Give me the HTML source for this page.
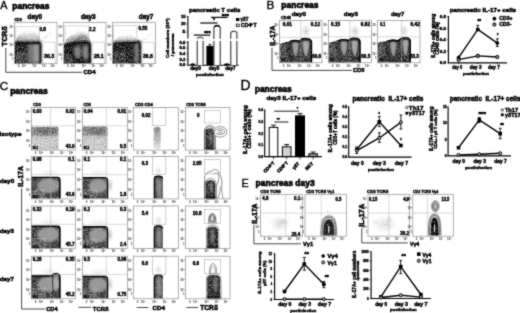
<!DOCTYPE html>
<html><head><meta charset="utf-8"><style>
html,body{margin:0;padding:0;background:#fff;width:520px;height:313px;overflow:hidden}
svg{display:block}
text{font-family:"Liberation Sans",sans-serif;stroke:#000}
</style></head><body>
<svg width="520" height="313" viewBox="0 0 520 313">

<defs>
<filter id="dn" x="-3%" y="-3%" width="106%" height="106%" color-interpolation-filters="sRGB">
  <feTurbulence type="fractalNoise" baseFrequency="1.3" numOctaves="1" seed="7" result="n"/>
  <feColorMatrix in="n" type="matrix" values="0 0 0 0 0  0 0 0 0 0  0 0 0 0 0  1.6 0 0 0 0.1" result="m"/>
  <feComposite in="SourceGraphic" in2="m" operator="in" result="c"/>
</filter>
<filter id="md" x="-3%" y="-3%" width="106%" height="106%" color-interpolation-filters="sRGB">
  <feTurbulence type="fractalNoise" baseFrequency="1.3" numOctaves="1" seed="11" result="n"/>
  <feColorMatrix in="n" type="matrix" values="0 0 0 0 0  0 0 0 0 0  0 0 0 0 0  1.4 0 0 0 -0.1" result="m"/>
  <feComposite in="SourceGraphic" in2="m" operator="in" result="c"/>
</filter>
<filter id="sp" x="-3%" y="-3%" width="106%" height="106%" color-interpolation-filters="sRGB">
  <feTurbulence type="fractalNoise" baseFrequency="1.3" numOctaves="1" seed="23" result="n"/>
  <feColorMatrix in="n" type="matrix" values="0 0 0 0 0  0 0 0 0 0  0 0 0 0 0  2.2 0 0 0 -0.75" result="m"/>
  <feComposite in="SourceGraphic" in2="m" operator="in" result="c"/>
</filter>
<filter id="b3" x="-20%" y="-20%" width="140%" height="140%"><feGaussianBlur stdDeviation="0.8"/></filter>
<filter id="b6" x="-20%" y="-20%" width="140%" height="140%"><feGaussianBlur stdDeviation="1.0"/></filter>
<filter id="b12" x="-30%" y="-30%" width="160%" height="160%"><feGaussianBlur stdDeviation="1.2"/></filter>
<filter id="b20" x="-40%" y="-40%" width="180%" height="180%"><feGaussianBlur stdDeviation="2.0"/></filter>
<filter id="cv" x="0" y="0" width="520" height="313" filterUnits="userSpaceOnUse" color-interpolation-filters="sRGB"><feConvolveMatrix order="3" kernelMatrix="1 3 1 3 16 3 1 3 1" divisor="32" edgeMode="duplicate"/></filter>
<radialGradient id="rg" cx="0.5" cy="0.5" r="0.5"><stop offset="0" stop-color="#000" stop-opacity="1"/><stop offset="1" stop-color="#000" stop-opacity="0"/></radialGradient>
<linearGradient id="lgv2" x1="0" y1="0" x2="0" y2="1"><stop offset="0" stop-color="#000" stop-opacity="0.9"/><stop offset="1" stop-color="#000" stop-opacity="0.25"/></linearGradient>
<linearGradient id="lgh" x1="0" y1="0" x2="1" y2="0"><stop offset="0" stop-color="#fff" stop-opacity="0.9"/><stop offset="0.6" stop-color="#fff" stop-opacity="0.5"/><stop offset="1" stop-color="#fff" stop-opacity="0"/></linearGradient>
<linearGradient id="lgv" x1="0" y1="1" x2="0" y2="0"><stop offset="0" stop-color="#000" stop-opacity="1"/><stop offset="1" stop-color="#000" stop-opacity="0"/></linearGradient>
</defs>

<g filter="url(#cv)"><rect width="520" height="313" fill="#fff"/>
<g filter="url(#md)" opacity="0.6"><path d="M15.5,42 C16,36 22,30.5 30,30.5 C36,30.5 40,35 41,42 Z" fill="url(#lgv)" stroke="none" stroke-width="1"/></g>
<g filter="url(#sp)" opacity="0.25"><path d="M40,42 C42,38 48,32 55,29 L56,31 C50,35 45,39 43,42 Z" fill="url(#lgv)" stroke="none" stroke-width="1"/></g>
<g filter="url(#dn)"><path d="M14.8,42 H38.5 Q41.2,42 41.2,44.6 V63.5 H14.8 Z" fill="#0a0a0a" stroke="none" stroke-width="1"/></g>
<g filter="url(#b6)" opacity="0.8"><path d="M27.8,44 H39.8 V63 H27.8 Z" fill="#8c8c8c" stroke="none" stroke-width="1"/></g>
<g filter="url(#b6)" opacity="0.6"><path d="M33.8,45 H39 V62.5 H33.8 Z" fill="#b0b0b0" stroke="none" stroke-width="1"/></g>
<g filter="url(#b3)"><path d="M14.8,42.2 H38.5 Q40.9,42.2 40.9,44.6 V63.5" fill="none" stroke="#000" stroke-width="1.5"/></g>
<g filter="url(#sp)" opacity="0.45"><path d="M16,52 H27 V63.3 H16 Z" fill="#fff" stroke="none" stroke-width="1"/></g>
<g filter="url(#md)" opacity="0.8"><path d="M64.5,44 C66,38 71,35 75,34 C77,30 83,29 86,32 C89,35 90,40 90.5,42 Z" fill="url(#lgv)" stroke="none" stroke-width="1"/></g>
<g filter="url(#md)" opacity="0.35"><path d="M72,43 C73,39 76,37 78,36 C80,33 85,34 87,37 C89,40 90,42 90,43 Z" fill="#000" stroke="none" stroke-width="1"/></g>
<g filter="url(#dn)"><path d="M64,44 C68,42.5 72,42 75,42 H88 Q90.8,42 90.8,44.8 V63.5 H64 Z" fill="#0a0a0a" stroke="none" stroke-width="1"/></g>
<g filter="url(#b6)" opacity="0.85"><ellipse cx="77.7" cy="52" rx="3.6" ry="6.5" fill="#909090"/></g>
<g filter="url(#b6)" opacity="0.85"><ellipse cx="85.6" cy="52" rx="3" ry="7.5" fill="#9a9a9a"/></g>
<g filter="url(#b3)"><path d="M75,42.3 H88 Q90.5,42.3 90.5,44.8 V63.5" fill="none" stroke="#000" stroke-width="1.4"/></g>
<g filter="url(#sp)" opacity="0.4"><path d="M65,54 H73 V63.3 H65 Z" fill="#fff" stroke="none" stroke-width="1"/></g>
<g filter="url(#md)" opacity="0.55"><path d="M113.5,43 C116,37 122,34 128,34 C133,34 136,38 138,42 Z" fill="url(#lgv)" stroke="none" stroke-width="1"/></g>
<g filter="url(#sp)" opacity="0.25"><path d="M141,42 C144,38 149,33 154,30 L155,32 C150,36 146,39 143,42 Z" fill="url(#lgv)" stroke="none" stroke-width="1"/></g>
<g filter="url(#dn)"><path d="M112.8,43 C118,42.3 124,42 130,42 H136 Q138,39.8 139.5,41 Q140.8,42 140.8,45 V63.5 H112.8 Z" fill="#0a0a0a" stroke="none" stroke-width="1"/></g>
<g filter="url(#b6)" opacity="0.8"><path d="M134.2,43.5 Q137,41.8 139.3,43.5 V62.5 H134.2 Z" fill="#8a8a8a" stroke="none" stroke-width="1"/></g>
<g filter="url(#b3)"><path d="M112.8,42.6 C118,42.3 124,42.2 130,42.2 H135.5 Q138,40 139.8,41.5 Q140.5,42.5 140.5,45 V63.5" fill="none" stroke="#000" stroke-width="1.4"/></g>
<g filter="url(#sp)" opacity="0.4"><path d="M114,52 H126 V63.3 H114 Z" fill="#fff" stroke="none" stroke-width="1"/></g>
<g filter="url(#md)" opacity="0.3"><ellipse cx="306" cy="31" rx="5.25" ry="6.6" fill="url(#rg)"/></g>
<g filter="url(#dn)" opacity="0.95"><path d="M279.8,44.0 C283.8,42.5 287.0,41.9 290.5,40.9 Q295.4,39.1 299.8,40.9 Q301.3,37.800000000000004 305.95000000000005,38.2 Q311.8,38.4 311.8,42.1 V62.5 H279.8 Z" fill="#111" stroke="none" stroke-width="1"/></g>
<g filter="url(#sp)" opacity="0.7"><path d="M279.8,44.5 H289.5 V62 H279.8 Z" fill="url(#lgh)" stroke="none" stroke-width="1"/></g>
<g filter="url(#b3)" opacity="0.95"><path d="M291.7,42.4 Q295.4,40.699999999999996 299.3,42.4 C299.3,51.9 297.2,55.4 296.2,58.4 C293.59999999999997,55.4 291.7,51.9 291.7,42.4 Z" fill="#b0b0b0" stroke="none" stroke-width="1"/></g>
<g filter="url(#b3)" opacity="0.95"><path d="M301.8,41.1 Q305.95000000000005,39.300000000000004 309.90000000000003,41.1 C309.90000000000003,51.6 307.55000000000007,55.6 306.25000000000006,58.6 C304.15000000000003,55.6 301.8,51.6 301.8,41.1 Z" fill="#bababa" stroke="none" stroke-width="1"/></g>
<g filter="url(#md)" opacity="0.12"><path d="M291.7,42.4 Q295.4,40.699999999999996 299.3,42.4 C299.3,51.9 297.2,55.4 296.2,58.4 C293.59999999999997,55.4 291.7,51.9 291.7,42.4 Z" fill="#000" stroke="none" stroke-width="1"/></g>
<g filter="url(#md)" opacity="0.1"><path d="M301.8,41.1 Q305.95000000000005,39.300000000000004 309.90000000000003,41.1 C309.90000000000003,51.6 307.55000000000007,55.6 306.25000000000006,58.6 C304.15000000000003,55.6 301.8,51.6 301.8,41.1 Z" fill="#000" stroke="none" stroke-width="1"/></g>
<path d="M291.7,42.4 Q295.4,40.699999999999996 299.3,42.4 C299.3,51.9 297.2,55.4 296.2,58.4 C293.59999999999997,55.4 291.7,51.9 291.7,42.4 Z" fill="none" stroke="#111" stroke-width="0.6"/>
<path d="M301.8,41.1 Q305.95000000000005,39.300000000000004 309.90000000000003,41.1 C309.90000000000003,51.6 307.55000000000007,55.6 306.25000000000006,58.6 C304.15000000000003,55.6 301.8,51.6 301.8,41.1 Z" fill="none" stroke="#111" stroke-width="0.6"/>
<path d="M289.5,41.699999999999996 Q295.4,39.6 299.8,41.4 Q301.3,38.300000000000004 305.95000000000005,38.6 Q311.5,38.800000000000004 311.5,42.1 V62.5" fill="none" stroke="#000" stroke-width="1.4"/>
<g filter="url(#md)" opacity="0.3"><ellipse cx="355" cy="31" rx="5.25" ry="6.6" fill="url(#rg)"/></g>
<g filter="url(#dn)" opacity="0.95"><path d="M328.8,43.3 C332.8,41.8 335.2,41.0 338.7,40.0 Q343.9,38.2 348.6,40.0 Q350.3,37.400000000000006 354.75,37.800000000000004 Q360.3,38.0 360.3,41.7 V62.5 H328.8 Z" fill="#111" stroke="none" stroke-width="1"/></g>
<g filter="url(#sp)" opacity="0.7"><path d="M328.8,43.8 H337.7 V62 H328.8 Z" fill="url(#lgh)" stroke="none" stroke-width="1"/></g>
<g filter="url(#b3)" opacity="0.95"><path d="M339.9,41.5 Q343.9,39.8 348.1,41.5 C348.1,51.0 345.7,54.5 344.7,57.5 C342.09999999999997,54.5 339.9,51.0 339.9,41.5 Z" fill="#b0b0b0" stroke="none" stroke-width="1"/></g>
<g filter="url(#b3)" opacity="0.95"><path d="M350.8,40.7 Q354.75,38.900000000000006 358.5,40.7 C358.5,51.2 356.35,55.2 355.05,58.2 C352.95,55.2 350.8,51.2 350.8,40.7 Z" fill="#bababa" stroke="none" stroke-width="1"/></g>
<g filter="url(#md)" opacity="0.12"><path d="M339.9,41.5 Q343.9,39.8 348.1,41.5 C348.1,51.0 345.7,54.5 344.7,57.5 C342.09999999999997,54.5 339.9,51.0 339.9,41.5 Z" fill="#000" stroke="none" stroke-width="1"/></g>
<g filter="url(#md)" opacity="0.1"><path d="M350.8,40.7 Q354.75,38.900000000000006 358.5,40.7 C358.5,51.2 356.35,55.2 355.05,58.2 C352.95,55.2 350.8,51.2 350.8,40.7 Z" fill="#000" stroke="none" stroke-width="1"/></g>
<path d="M339.9,41.5 Q343.9,39.8 348.1,41.5 C348.1,51.0 345.7,54.5 344.7,57.5 C342.09999999999997,54.5 339.9,51.0 339.9,41.5 Z" fill="none" stroke="#111" stroke-width="0.6"/>
<path d="M350.8,40.7 Q354.75,38.900000000000006 358.5,40.7 C358.5,51.2 356.35,55.2 355.05,58.2 C352.95,55.2 350.8,51.2 350.8,40.7 Z" fill="none" stroke="#111" stroke-width="0.6"/>
<path d="M337.7,40.8 Q343.9,38.7 348.6,40.5 Q350.3,37.900000000000006 354.75,38.2 Q360.0,38.400000000000006 360.0,41.7 V62.5" fill="none" stroke="#000" stroke-width="1.4"/>
<g filter="url(#md)" opacity="0.3"><ellipse cx="404" cy="31" rx="4.5" ry="6.6" fill="url(#rg)"/></g>
<g filter="url(#dn)" opacity="0.95"><path d="M377.8,43.0 C381.8,41.5 384.8,41.5 388.3,40.5 Q393.3,38.7 397.8,40.5 Q401.3,36.800000000000004 405.55,37.2 Q410.5,37.4 410.5,41.1 V62.5 H377.8 Z" fill="#111" stroke="none" stroke-width="1"/></g>
<g filter="url(#sp)" opacity="0.7"><path d="M377.8,43.5 H387.3 V62 H377.8 Z" fill="url(#lgh)" stroke="none" stroke-width="1"/></g>
<g filter="url(#b3)" opacity="0.95"><path d="M389.5,42.0 Q393.3,40.3 397.3,42.0 C397.3,51.5 395.1,55.0 394.1,58.0 C391.5,55.0 389.5,51.5 389.5,42.0 Z" fill="#b0b0b0" stroke="none" stroke-width="1"/></g>
<g filter="url(#b3)" opacity="0.95"><path d="M401.8,40.1 Q405.55,38.300000000000004 409.1,40.1 C409.1,50.6 407.15000000000003,54.6 405.85,57.6 C403.75,54.6 401.8,50.6 401.8,40.1 Z" fill="#bababa" stroke="none" stroke-width="1"/></g>
<g filter="url(#md)" opacity="0.12"><path d="M389.5,42.0 Q393.3,40.3 397.3,42.0 C397.3,51.5 395.1,55.0 394.1,58.0 C391.5,55.0 389.5,51.5 389.5,42.0 Z" fill="#000" stroke="none" stroke-width="1"/></g>
<g filter="url(#md)" opacity="0.1"><path d="M401.8,40.1 Q405.55,38.300000000000004 409.1,40.1 C409.1,50.6 407.15000000000003,54.6 405.85,57.6 C403.75,54.6 401.8,50.6 401.8,40.1 Z" fill="#000" stroke="none" stroke-width="1"/></g>
<path d="M389.5,42.0 Q393.3,40.3 397.3,42.0 C397.3,51.5 395.1,55.0 394.1,58.0 C391.5,55.0 389.5,51.5 389.5,42.0 Z" fill="none" stroke="#111" stroke-width="0.6"/>
<path d="M401.8,40.1 Q405.55,38.300000000000004 409.1,40.1 C409.1,50.6 407.15000000000003,54.6 405.85,57.6 C403.75,54.6 401.8,50.6 401.8,40.1 Z" fill="none" stroke="#111" stroke-width="0.6"/>
<path d="M387.3,41.3 Q393.3,39.2 397.8,41.0 Q401.3,37.300000000000004 405.55,37.6 Q410.2,37.800000000000004 410.2,41.1 V62.5" fill="none" stroke="#000" stroke-width="1.4"/>
<g filter="url(#md)" opacity="0.4"><path d="M31.1,126.7 H56.5 Q58.5,126.7 58.5,128.7 V149.79999999999998 H31.1 Z" fill="#000" stroke="none" stroke-width="1"/></g>
<g filter="url(#md)" opacity="0.45"><path d="M31.1,126.7 H56.5 Q58.5,126.7 58.5,128.7 V135.7 H31.1 Z" fill="#000" stroke="none" stroke-width="1"/></g>
<g filter="url(#md)" opacity="0.25"><path d="M36.8,127.7 H55.5 V133.7 H36.8 Z" fill="#000" stroke="none" stroke-width="1"/></g>
<g filter="url(#sp)" opacity="0.5"><path d="M31.8,138.7 H55.5 V149.6 H31.8 Z" fill="#fff" stroke="none" stroke-width="1"/></g>
<g filter="url(#md)" opacity="0.4"><path d="M82.6,126.5 H105.5 Q107.5,126.5 107.5,128.5 V149.79999999999998 H82.6 Z" fill="#000" stroke="none" stroke-width="1"/></g>
<g filter="url(#md)" opacity="0.45"><path d="M82.6,126.5 H105.5 Q107.5,126.5 107.5,128.5 V135.5 H82.6 Z" fill="#000" stroke="none" stroke-width="1"/></g>
<g filter="url(#md)" opacity="0.25"><path d="M88.3,127.5 H104.5 V133.5 H88.3 Z" fill="#000" stroke="none" stroke-width="1"/></g>
<g filter="url(#sp)" opacity="0.5"><path d="M83.3,138.5 H104.5 V149.6 H83.3 Z" fill="#fff" stroke="none" stroke-width="1"/></g>
<g filter="url(#md)" opacity="0.8"><path d="M153.7,128.0 Q157.2,126.0 160.7,128.0 V148.1 Q157.2,150.1 153.7,148.1 Z" fill="url(#lgv2)" stroke="none" stroke-width="1"/></g>
<g filter="url(#dn)" opacity="0.95"><path d="M205.4,149.6 V130.78 C205.4,127.5 213.8,127.5 213.8,130.78 V149.6 Z" fill="#111" stroke="none" stroke-width="1"/></g>
<g filter="url(#b6)" opacity="0.75"><ellipse cx="210.6" cy="138" rx="1.3" ry="5" fill="#aaa"/></g>
<path d="M204.6,149.6 V130.78 C204.6,125.5 214.60000000000002,125.5 214.60000000000002,130.78 V149.6" fill="none" stroke="#000" stroke-width="0.5" opacity="0.8"/>
<g filter="url(#b3)" opacity="0.9"><rect x="205.4" y="147.6" width="8.9" height="2" fill="#000"/></g>
<path d="M204.6,149.6 V131 C204.6,124.5 213,124 215,128.5 C217.5,125.5 226.5,126 226.8,131.5 C227,137 219,138.5 215.5,135.5 V149.6" fill="none" stroke="#000" stroke-width="0.5" opacity="0.85"/>
<path d="M215.2,130.5 C218,128 224.5,128.3 224.6,131.8 C224.6,134.8 219,135 216,133.3" fill="none" stroke="#000" stroke-width="0.5" opacity="0.85"/>
<path d="M217.5,131.5 C219,130 222.3,130.3 222.4,131.8 C222.4,133.2 219.5,133.2 218,132.6" fill="none" stroke="#000" stroke-width="0.5" opacity="0.85"/>
<g filter="url(#dn)" opacity="0.9"><path d="M31.1,177.10000000000002 H57.2 Q60.2,177.10000000000002 60.2,180.10000000000002 V198.6 H31.1 Z" fill="#1a1a1a" stroke="none" stroke-width="1"/></g>
<g filter="url(#b6)" opacity="0.85"><ellipse cx="48.5" cy="185.6" rx="11.2" ry="7.5" fill="#a8a8a8"/></g>
<path d="M31.1,177.40000000000003 H57.2 Q59.900000000000006,177.40000000000003 59.900000000000006,180.10000000000002 V198.6" fill="none" stroke="#000" stroke-width="1.4"/>
<g filter="url(#sp)" opacity="0.45"><path d="M31.8,189.10000000000002 H45.8 V198.4 H31.8 Z" fill="#fff" stroke="none" stroke-width="1"/></g>
<g filter="url(#md)" opacity="0.12"><ellipse cx="49.5" cy="173.1" rx="11" ry="4" fill="url(#rg)"/></g>
<g filter="url(#dn)" opacity="0.9"><path d="M82.6,177.3 H104.8 Q107.8,177.3 107.8,180.3 V198.6 H82.6 Z" fill="#1a1a1a" stroke="none" stroke-width="1"/></g>
<g filter="url(#b6)" opacity="0.85"><ellipse cx="98.05" cy="185.8" rx="9.25" ry="7.5" fill="#a8a8a8"/></g>
<path d="M82.6,177.60000000000002 H104.8 Q107.5,177.60000000000002 107.5,180.3 V198.6" fill="none" stroke="#000" stroke-width="1.4"/>
<g filter="url(#sp)" opacity="0.45"><path d="M83.3,189.3 H97.3 V198.4 H83.3 Z" fill="#fff" stroke="none" stroke-width="1"/></g>
<g filter="url(#md)" opacity="0.12"><ellipse cx="99.05" cy="173.3" rx="11" ry="4" fill="url(#rg)"/></g>
<g filter="url(#md)" opacity="0.35"><ellipse cx="109.8" cy="185.3" rx="4" ry="8" fill="url(#rg)"/></g>
<g filter="url(#dn)" opacity="0.9"><path d="M154.0,198.6 V178.8 Q154.0,175.8 158.4,175.8 Q162.8,175.8 162.8,178.8 V198.6 Z" fill="#2a2a2a" stroke="none" stroke-width="1"/></g>
<g filter="url(#b6)" opacity="0.8"><ellipse cx="159" cy="187.8" rx="2.4" ry="9.5" fill="#9a9a9a"/></g>
<path d="M154.3,198.6 V178.8 Q154.3,176.10000000000002 158.4,176.10000000000002 Q162.5,176.10000000000002 162.5,178.8" fill="none" stroke="#000" stroke-width="1.2"/>
<g filter="url(#md)" opacity="0.2"><ellipse cx="158.4" cy="170.8" rx="4.4" ry="5" fill="url(#rg)"/></g>
<g filter="url(#dn)" opacity="0.9"><path d="M31.1,226.0 H57.2 Q60.2,226.0 60.2,229.0 V248.29999999999998 H31.1 Z" fill="#1a1a1a" stroke="none" stroke-width="1"/></g>
<g filter="url(#b6)" opacity="0.85"><ellipse cx="48.5" cy="234.5" rx="11.2" ry="7.5" fill="#a8a8a8"/></g>
<path d="M31.1,226.3 H57.2 Q59.900000000000006,226.3 59.900000000000006,229.0 V248.29999999999998" fill="none" stroke="#000" stroke-width="1.4"/>
<g filter="url(#sp)" opacity="0.45"><path d="M31.8,238.0 H45.8 V248.1 H31.8 Z" fill="#fff" stroke="none" stroke-width="1"/></g>
<g filter="url(#md)" opacity="0.12"><ellipse cx="49.5" cy="222" rx="11" ry="4" fill="url(#rg)"/></g>
<g filter="url(#dn)" opacity="0.9"><path d="M82.6,226.5 H104.8 Q107.8,226.5 107.8,229.5 V248.29999999999998 H82.6 Z" fill="#1a1a1a" stroke="none" stroke-width="1"/></g>
<g filter="url(#b6)" opacity="0.85"><ellipse cx="98.05" cy="235" rx="9.25" ry="7.5" fill="#a8a8a8"/></g>
<path d="M82.6,226.8 H104.8 Q107.5,226.8 107.5,229.5 V248.29999999999998" fill="none" stroke="#000" stroke-width="1.4"/>
<g filter="url(#sp)" opacity="0.45"><path d="M83.3,238.5 H97.3 V248.1 H83.3 Z" fill="#fff" stroke="none" stroke-width="1"/></g>
<g filter="url(#md)" opacity="0.12"><ellipse cx="99.05" cy="222.5" rx="11" ry="4" fill="url(#rg)"/></g>
<g filter="url(#md)" opacity="0.35"><ellipse cx="109.8" cy="234.5" rx="4" ry="8" fill="url(#rg)"/></g>
<g filter="url(#dn)" opacity="0.9"><path d="M154.0,248.29999999999998 V228.5 Q154.0,225.5 158.4,225.5 Q162.8,225.5 162.8,228.5 V248.29999999999998 Z" fill="#2a2a2a" stroke="none" stroke-width="1"/></g>
<g filter="url(#b6)" opacity="0.8"><ellipse cx="159" cy="237.5" rx="2.4" ry="9.5" fill="#9a9a9a"/></g>
<path d="M154.3,248.29999999999998 V228.5 Q154.3,225.8 158.4,225.8 Q162.5,225.8 162.5,228.5" fill="none" stroke="#000" stroke-width="1.2"/>
<g filter="url(#md)" opacity="0.2"><ellipse cx="158.4" cy="220.5" rx="4.4" ry="5" fill="url(#rg)"/></g>
<g filter="url(#dn)" opacity="0.9"><path d="M31.1,275.7 H51.0 C52.0,275.7 52.0,273.3 55.5,273.3 C60.2,273.3 60.2,275.3 60.2,278.3 V298.5 H31.1 Z" fill="#1a1a1a" stroke="none" stroke-width="1"/></g>
<g filter="url(#b6)" opacity="0.85"><ellipse cx="48.5" cy="284.2" rx="11.2" ry="7.5" fill="#a8a8a8"/></g>
<g filter="url(#b6)" opacity="0.85"><ellipse cx="56.4" cy="282.3" rx="2.6" ry="8.5" fill="#b0b0b0"/></g>
<path d="M52.8,276.3 C52.3,282.3 52.8,290.8 54.0,294.8" fill="none" stroke="#222" stroke-width="0.8"/>
<path d="M31.1,276.0 H51.0 C52.0,276.0 52.0,273.6 55.5,273.6 C59.900000000000006,273.6 59.900000000000006,275.3 59.900000000000006,278.3 V298.5" fill="none" stroke="#000" stroke-width="1.4"/>
<g filter="url(#sp)" opacity="0.45"><path d="M31.8,287.7 H45.8 V298.3 H31.8 Z" fill="#fff" stroke="none" stroke-width="1"/></g>
<g filter="url(#md)" opacity="0.12"><ellipse cx="49.5" cy="271.7" rx="11" ry="4" fill="url(#rg)"/></g>
<g filter="url(#dn)" opacity="0.9"><path d="M82.6,276.2 H104.8 Q107.8,276.2 107.8,279.2 V298.5 H82.6 Z" fill="#1a1a1a" stroke="none" stroke-width="1"/></g>
<g filter="url(#b6)" opacity="0.85"><ellipse cx="98.05" cy="284.7" rx="9.25" ry="7.5" fill="#a8a8a8"/></g>
<path d="M82.6,276.5 H104.8 Q107.5,276.5 107.5,279.2 V298.5" fill="none" stroke="#000" stroke-width="1.4"/>
<g filter="url(#sp)" opacity="0.45"><path d="M83.3,288.2 H97.3 V298.3 H83.3 Z" fill="#fff" stroke="none" stroke-width="1"/></g>
<g filter="url(#md)" opacity="0.12"><ellipse cx="99.05" cy="272.2" rx="11" ry="4" fill="url(#rg)"/></g>
<g filter="url(#md)" opacity="0.35"><ellipse cx="109.8" cy="284.2" rx="4" ry="8" fill="url(#rg)"/></g>
<g filter="url(#dn)" opacity="0.9"><path d="M154.0,298.5 V277.7 Q154.0,274.7 158.4,274.7 Q162.8,274.7 162.8,277.7 V298.5 Z" fill="#2a2a2a" stroke="none" stroke-width="1"/></g>
<g filter="url(#b6)" opacity="0.8"><ellipse cx="159" cy="286.7" rx="2.4" ry="9.5" fill="#9a9a9a"/></g>
<path d="M154.3,298.5 V277.7 Q154.3,275.0 158.4,275.0 Q162.5,275.0 162.5,277.7" fill="none" stroke="#000" stroke-width="1.2"/>
<g filter="url(#md)" opacity="0.2"><ellipse cx="158.4" cy="269.7" rx="4.4" ry="5" fill="url(#rg)"/></g>
<g filter="url(#dn)" opacity="0.95"><path d="M205.6,198.9 V182.82 C205.6,179.0 215.2,179.0 215.2,182.82 V198.9 Z" fill="#111" stroke="none" stroke-width="1"/></g>
<g filter="url(#b6)" opacity="0.75"><ellipse cx="211.5" cy="187" rx="1.4" ry="5.5" fill="#aaa"/></g>
<path d="M204.79999999999998,198.9 V182.82 C204.79999999999998,177.0 216.0,177.0 216.0,182.82 V198.9" fill="none" stroke="#000" stroke-width="0.5" opacity="0.8"/>
<g filter="url(#b3)" opacity="0.9"><rect x="205.6" y="196.9" width="10.1" height="2" fill="#000"/></g>
<path d="M204.6,198.9 V178 C204.6,173 209,171.5 212,171 C214.5,168.5 218.5,169 219,173.5 C221.5,176 222.3,181 221.8,186 C221.5,191 222.5,195 223,198.9" fill="none" stroke="#000" stroke-width="0.5" opacity="0.85"/>
<path d="M216.2,198.9 V186 C218.5,182 219.8,178.5 218.3,174.5 C217.5,172 215.5,172.5 214.5,174.5" fill="none" stroke="#000" stroke-width="0.5" opacity="0.85"/>
<path d="M218,198.9 C219.5,194 220.5,190 220.2,186" fill="none" stroke="#000" stroke-width="0.5" opacity="0.85"/>
<g filter="url(#dn)" opacity="0.95"><path d="M207.2,248.6 V229.66000000000003 C207.2,225.3 218.0,225.3 218.0,229.66000000000003 V248.6 Z" fill="#111" stroke="none" stroke-width="1"/></g>
<g filter="url(#b6)" opacity="0.75"><ellipse cx="212.6" cy="236" rx="1.6" ry="8" fill="#999"/></g>
<path d="M206.39999999999998,248.6 V229.66000000000003 C206.39999999999998,223.3 218.8,223.3 218.8,229.66000000000003 V248.6" fill="none" stroke="#000" stroke-width="0.5" opacity="0.8"/>
<g filter="url(#b3)" opacity="0.9"><rect x="207.2" y="246.6" width="11.3" height="2" fill="#000"/></g>
<g filter="url(#md)" opacity="0.55"><ellipse cx="212.3" cy="218.6" rx="3.6" ry="5" fill="#000"/></g>
<path d="M208.6,224 C208.2,218 209.5,213.6 212.3,213.6 C215.1,213.6 216.4,218 216,224" fill="none" stroke="#000" stroke-width="0.5" opacity="0.85"/>
<path d="M209.8,223 C209.6,219 210.6,215.8 212.3,215.8 C214,215.8 214.9,219 214.7,223" fill="none" stroke="#000" stroke-width="0.45" opacity="0.85"/>
<g opacity="0.8"><ellipse cx="212.3" cy="218" rx="1.2" ry="2" fill="#eee"/></g>
<g filter="url(#dn)" opacity="0.95"><path d="M207.2,298.8 V278.85 C207.2,273.5 220.2,273.5 220.2,278.85 V298.8 Z" fill="#111" stroke="none" stroke-width="1"/></g>
<g filter="url(#b6)" opacity="0.75"><ellipse cx="215.5" cy="284" rx="2.2" ry="8" fill="#888"/></g>
<path d="M206.39999999999998,298.8 V278.85 C206.39999999999998,271.5 221.0,271.5 221.0,278.85 V298.8" fill="none" stroke="#000" stroke-width="0.5" opacity="0.8"/>
<g filter="url(#b3)" opacity="0.9"><rect x="207.2" y="296.8" width="13.5" height="2" fill="#000"/></g>
<path d="M209.6,273.5 C209.2,268 210.5,263.6 213.0,263.6 C215.5,263.6 216.8,268 216.4,273.5" fill="none" stroke="#000" stroke-width="0.5" opacity="0.85"/>
<path d="M210.8,273 C210.6,269 211.5,266 213.0,266 C214.5,266 215.3,269 215.1,273" fill="none" stroke="#000" stroke-width="0.45" opacity="0.85"/>
<g filter="url(#md)" opacity="0.25"><ellipse cx="280" cy="223.5" rx="10.5" ry="8" fill="url(#rg)"/></g>
<g filter="url(#md)" opacity="0.2"><ellipse cx="283.5" cy="221.5" rx="4" ry="3.5" fill="url(#rg)"/></g>
<g filter="url(#md)" opacity="0.22"><ellipse cx="385" cy="224.5" rx="12" ry="8.5" fill="url(#rg)"/></g>
<g filter="url(#md)" opacity="0.2"><ellipse cx="389.5" cy="219.5" rx="3.5" ry="4" fill="url(#rg)"/></g>
<g filter="url(#md)" opacity="0.15"><ellipse cx="375" cy="222" rx="3.5" ry="3.5" fill="url(#rg)"/></g>
<g filter="url(#md)" opacity="0.35"><path d="M320.8,235.6 C320.8,218.8 324.0,215.8 328.8,215.8 C333.6,215.8 336.8,218.8 336.8,235.6 Z" fill="#000" stroke="none" stroke-width="1"/></g>
<path d="M320.8,235.6 C320.8,218.8 324.0,215.8 328.8,215.8 C333.6,215.8 336.8,218.8 336.8,235.6" fill="none" stroke="#000" stroke-width="0.55" opacity="0.8"/>
<path d="M322.1,235.6 C322.1,220.3 324.78000000000003,217.3 328.8,217.3 C332.82,217.3 335.5,220.3 335.5,235.6" fill="none" stroke="#000" stroke-width="0.55" opacity="0.8"/>
<g filter="url(#dn)" opacity="0.9"><path d="M323.2,235.6 C323.2,222.3 325.44,219.3 328.8,219.3 C332.16,219.3 334.40000000000003,222.3 334.40000000000003,235.6 Z" fill="#000" stroke="none" stroke-width="1"/></g>
<g opacity="0.85"><ellipse cx="328.8" cy="229.2" rx="0.7" ry="4" fill="#fff"/></g>
<g filter="url(#md)" opacity="0.35"><path d="M428.20000000000005,235.6 C428.20000000000005,217.0 430.76000000000005,214.0 434.6,214.0 C438.44,214.0 441.0,217.0 441.0,235.6 Z" fill="#000" stroke="none" stroke-width="1"/></g>
<path d="M428.20000000000005,235.6 C428.20000000000005,217.0 430.76000000000005,214.0 434.6,214.0 C438.44,214.0 441.0,217.0 441.0,235.6" fill="none" stroke="#000" stroke-width="0.55" opacity="0.8"/>
<path d="M429.5,235.6 C429.5,218.5 431.54,215.5 434.6,215.5 C437.66,215.5 439.70000000000005,218.5 439.70000000000005,235.6" fill="none" stroke="#000" stroke-width="0.55" opacity="0.8"/>
<g filter="url(#dn)" opacity="1.0"><path d="M430.6,235.6 C430.6,220.5 432.20000000000005,217.5 434.6,217.5 C437.0,217.5 438.6,220.5 438.6,235.6 Z" fill="#000" stroke="none" stroke-width="1"/></g>
<g opacity="0.85"><ellipse cx="434.6" cy="228.3" rx="0.7" ry="4" fill="#fff"/></g>
<ellipse cx="435.3" cy="206.2" rx="3.8" ry="5.6" fill="none" stroke="#333" stroke-width="0.5"/>
<ellipse cx="435.3" cy="206.4" rx="2.7" ry="4.1" fill="none" stroke="#333" stroke-width="0.5"/>
<ellipse cx="435.3" cy="206.6" rx="1.6" ry="2.6" fill="none" stroke="#333" stroke-width="0.5"/>
<g filter="url(#md)" opacity="0.35"><ellipse cx="435.3" cy="206.2" rx="3.6" ry="5.4" fill="#000"/></g>
<text x="0.28" y="9" font-size="10.71" stroke-width="0.32">A</text>
<text x="12.34" y="8.5" font-size="8.45" font-weight="bold" stroke-width="0.63">pancreas</text>
<text x="27.54" y="18.7" font-size="6.33" font-weight="bold" stroke-width="0.52">day0</text>
<text x="81.04" y="18.7" font-size="6.45" font-weight="bold" stroke-width="0.52">day3</text>
<text x="138.84" y="18.7" font-size="6.33" font-weight="bold" stroke-width="0.52">day7</text>
<text x="14.45" y="20.6" font-size="3.6" font-weight="bold" textLength="7.38" lengthAdjust="spacingAndGlyphs" stroke-width="0.37">CD3</text>
<text x="6.8" y="46.18" font-size="7.51" font-weight="bold" transform="rotate(-90 6.8 46.18)" stroke-width="0.58">TCRδ</text>
<polyline points="5.8,48 5.8,72.3 82,72.3" stroke="#333" stroke-width="0.9" fill="none"/>
<text x="83.55" y="73.8" font-size="5.99" font-weight="bold" stroke-width="0.5">CD4</text>
<rect x="14.5" y="22.3" width="42.5" height="41.4" fill="none" stroke="#8c8c8c" stroke-width="0.7"/>
<text x="13.5" y="27.75" font-size="2.9" font-weight="bold" text-anchor="end" fill="#333" style="stroke:none">10<tspan dy="-1" font-size="2">4</tspan></text>
<text x="13.5" y="37.07" font-size="2.9" font-weight="bold" text-anchor="end" fill="#333" style="stroke:none">10<tspan dy="-1" font-size="2">3</tspan></text>
<text x="13.5" y="46.38" font-size="2.9" font-weight="bold" text-anchor="end" fill="#333" style="stroke:none">10<tspan dy="-1" font-size="2">2</tspan></text>
<text x="13.5" y="55.7" font-size="2.9" font-weight="bold" text-anchor="end" fill="#333" style="stroke:none">10<tspan dy="-1" font-size="2">1</tspan></text>
<text x="13.5" y="60.46" font-size="2.9" font-weight="bold" text-anchor="end" fill="#333" style="stroke:none">1</text>
<text x="18.54" y="67.4" font-size="2.9" font-weight="bold" text-anchor="middle" fill="#333" style="stroke:none">0</text>
<text x="23.85" y="67.4" font-size="2.9" font-weight="bold" text-anchor="middle" fill="#333" style="stroke:none">10<tspan dy="-1" font-size="2">2</tspan></text>
<text x="34.47" y="67.4" font-size="2.9" font-weight="bold" text-anchor="middle" fill="#333" style="stroke:none">10<tspan dy="-1" font-size="2">3</tspan></text>
<text x="44.25" y="67.4" font-size="2.9" font-weight="bold" text-anchor="middle" fill="#333" style="stroke:none">10<tspan dy="-1" font-size="2">4</tspan></text>
<text x="52.75" y="67.4" font-size="2.9" font-weight="bold" text-anchor="middle" fill="#333" style="stroke:none">10<tspan dy="-1" font-size="2">5</tspan></text>
<rect x="63.7" y="22.3" width="42.3" height="41.4" fill="none" stroke="#8c8c8c" stroke-width="0.7"/>
<text x="62.7" y="27.75" font-size="2.9" font-weight="bold" text-anchor="end" fill="#333" style="stroke:none">10<tspan dy="-1" font-size="2">4</tspan></text>
<text x="62.7" y="37.07" font-size="2.9" font-weight="bold" text-anchor="end" fill="#333" style="stroke:none">10<tspan dy="-1" font-size="2">3</tspan></text>
<text x="62.7" y="46.38" font-size="2.9" font-weight="bold" text-anchor="end" fill="#333" style="stroke:none">10<tspan dy="-1" font-size="2">2</tspan></text>
<text x="62.7" y="55.7" font-size="2.9" font-weight="bold" text-anchor="end" fill="#333" style="stroke:none">10<tspan dy="-1" font-size="2">1</tspan></text>
<text x="62.7" y="60.46" font-size="2.9" font-weight="bold" text-anchor="end" fill="#333" style="stroke:none">1</text>
<text x="67.72" y="67.4" font-size="2.9" font-weight="bold" text-anchor="middle" fill="#333" style="stroke:none">0</text>
<text x="73.01" y="67.4" font-size="2.9" font-weight="bold" text-anchor="middle" fill="#333" style="stroke:none">10<tspan dy="-1" font-size="2">2</tspan></text>
<text x="83.58" y="67.4" font-size="2.9" font-weight="bold" text-anchor="middle" fill="#333" style="stroke:none">10<tspan dy="-1" font-size="2">3</tspan></text>
<text x="93.31" y="67.4" font-size="2.9" font-weight="bold" text-anchor="middle" fill="#333" style="stroke:none">10<tspan dy="-1" font-size="2">4</tspan></text>
<text x="101.77" y="67.4" font-size="2.9" font-weight="bold" text-anchor="middle" fill="#333" style="stroke:none">10<tspan dy="-1" font-size="2">5</tspan></text>
<rect x="112.5" y="22.3" width="43" height="41.4" fill="none" stroke="#8c8c8c" stroke-width="0.7"/>
<text x="111.5" y="27.75" font-size="2.9" font-weight="bold" text-anchor="end" fill="#333" style="stroke:none">10<tspan dy="-1" font-size="2">4</tspan></text>
<text x="111.5" y="37.07" font-size="2.9" font-weight="bold" text-anchor="end" fill="#333" style="stroke:none">10<tspan dy="-1" font-size="2">3</tspan></text>
<text x="111.5" y="46.38" font-size="2.9" font-weight="bold" text-anchor="end" fill="#333" style="stroke:none">10<tspan dy="-1" font-size="2">2</tspan></text>
<text x="111.5" y="55.7" font-size="2.9" font-weight="bold" text-anchor="end" fill="#333" style="stroke:none">10<tspan dy="-1" font-size="2">1</tspan></text>
<text x="111.5" y="60.46" font-size="2.9" font-weight="bold" text-anchor="end" fill="#333" style="stroke:none">1</text>
<text x="116.58" y="67.4" font-size="2.9" font-weight="bold" text-anchor="middle" fill="#333" style="stroke:none">0</text>
<text x="121.96" y="67.4" font-size="2.9" font-weight="bold" text-anchor="middle" fill="#333" style="stroke:none">10<tspan dy="-1" font-size="2">2</tspan></text>
<text x="132.71" y="67.4" font-size="2.9" font-weight="bold" text-anchor="middle" fill="#333" style="stroke:none">10<tspan dy="-1" font-size="2">3</tspan></text>
<text x="142.6" y="67.4" font-size="2.9" font-weight="bold" text-anchor="middle" fill="#333" style="stroke:none">10<tspan dy="-1" font-size="2">4</tspan></text>
<text x="151.2" y="67.4" font-size="2.9" font-weight="bold" text-anchor="middle" fill="#333" style="stroke:none">10<tspan dy="-1" font-size="2">5</tspan></text>
<text x="39.42" y="30.6" font-size="4.5" font-weight="bold" textLength="6.42" lengthAdjust="spacingAndGlyphs" stroke-width="0.42">0.8</text>
<text x="44" y="57.7" font-size="4.5" font-weight="bold" textLength="10.27" lengthAdjust="spacingAndGlyphs" stroke-width="0.42">30.3</text>
<text x="89.14" y="30.6" font-size="4.5" font-weight="bold" textLength="6.34" lengthAdjust="spacingAndGlyphs" stroke-width="0.42">2.2</text>
<text x="93.74" y="57.7" font-size="4.5" font-weight="bold" textLength="9.98" lengthAdjust="spacingAndGlyphs" stroke-width="0.42">28.1</text>
<text x="138.42" y="30.4" font-size="4.5" font-weight="bold" textLength="9" lengthAdjust="spacingAndGlyphs" stroke-width="0.42">0.55</text>
<text x="143" y="57.7" font-size="4.5" font-weight="bold" textLength="9.87" lengthAdjust="spacingAndGlyphs" stroke-width="0.42">30.6</text>
<text x="189" y="12.2" font-size="6.13" font-weight="bold" stroke-width="0.51">pancreatic T cells</text>
<line x1="187.9" y1="16" x2="187.9" y2="38.6" stroke="#000" stroke-width="1.1"/>
<line x1="187.9" y1="41" x2="187.9" y2="65.2" stroke="#000" stroke-width="1.1"/>
<line x1="187.5" y1="65.2" x2="238.6" y2="65.2" stroke="#000" stroke-width="1.1"/>
<line x1="186.6" y1="16.5" x2="187.9" y2="16.5" stroke="#000" stroke-width="0.7"/>
<text x="180.9" y="17.6" font-size="3.2" font-weight="bold" textLength="4.49" lengthAdjust="spacingAndGlyphs" stroke-width="0.35">15</text>
<line x1="186.6" y1="24" x2="187.9" y2="24" stroke="#000" stroke-width="0.7"/>
<text x="180.9" y="25.1" font-size="3.2" font-weight="bold" textLength="4.53" lengthAdjust="spacingAndGlyphs" stroke-width="0.35">10</text>
<line x1="186.6" y1="32" x2="187.9" y2="32" stroke="#000" stroke-width="0.7"/>
<text x="182.6" y="33.1" font-size="3.2" font-weight="bold" textLength="2.79" lengthAdjust="spacingAndGlyphs" stroke-width="0.35">5</text>
<line x1="186.6" y1="42.4" x2="187.9" y2="42.4" stroke="#000" stroke-width="0.7"/>
<text x="179.57" y="43.5" font-size="3.2" font-weight="bold" textLength="5.82" lengthAdjust="spacingAndGlyphs" stroke-width="0.35">0.8</text>
<line x1="186.6" y1="48.1" x2="187.9" y2="48.1" stroke="#000" stroke-width="0.7"/>
<text x="179.57" y="49.2" font-size="3.2" font-weight="bold" textLength="5.84" lengthAdjust="spacingAndGlyphs" stroke-width="0.35">0.6</text>
<line x1="186.6" y1="53.8" x2="187.9" y2="53.8" stroke="#000" stroke-width="0.7"/>
<text x="179.57" y="54.9" font-size="3.2" font-weight="bold" textLength="5.74" lengthAdjust="spacingAndGlyphs" stroke-width="0.35">0.4</text>
<line x1="186.6" y1="59.5" x2="187.9" y2="59.5" stroke="#000" stroke-width="0.7"/>
<text x="179.57" y="60.6" font-size="3.2" font-weight="bold" textLength="5.85" lengthAdjust="spacingAndGlyphs" stroke-width="0.35">0.2</text>
<line x1="186.6" y1="65.2" x2="187.9" y2="65.2" stroke="#000" stroke-width="0.7"/>
<text x="179.57" y="66.3" font-size="3.2" font-weight="bold" textLength="5.86" lengthAdjust="spacingAndGlyphs" stroke-width="0.35">0.0</text>
<text x="169.3" y="58.06" font-size="4" font-weight="bold" textLength="39.76" lengthAdjust="spacingAndGlyphs" transform="rotate(-90 169.3 58.06)" stroke-width="0.39">Cell numbers (10⁴)</text>
<text x="173.8" y="56.24" font-size="4" font-weight="bold" textLength="22.9" lengthAdjust="spacingAndGlyphs" transform="rotate(-90 173.8 56.24)" stroke-width="0.39">/ pancreas</text>
<path d="M189.9,65.2 Q190.5,63.2 192.7,63.2 Q194.9,63.2 195.5,65.2 Z" fill="#000" stroke="none" stroke-width="0.8"/>
<path d="M197.2,65.2 V38.2 Q200.1,35.9 203.1,38.2 V65.2" fill="#fff" stroke="#000" stroke-width="0.9"/>
<rect x="206.4" y="45.9" width="7" height="19.3" fill="#000" stroke="none" stroke-width="0.8"/>
<line x1="209.9" y1="44.3" x2="209.9" y2="46" stroke="#000" stroke-width="0.8"/>
<line x1="208.4" y1="44.4" x2="211.4" y2="44.4" stroke="#000" stroke-width="0.8"/>
<path d="M213.9,65.2 V27.0 Q217.0,24.2 220.2,27.0 V65.2" fill="#fff" stroke="#000" stroke-width="0.9"/>
<path d="M214.2,26.8 Q217.0,24.4 219.9,26.8" fill="none" stroke="#000" stroke-width="1.4"/>
<path d="M223.4,65.2 Q224.2,63.2 226.8,63.2 Q229.5,63.2 230.3,65.2 Z" fill="#000" stroke="none" stroke-width="0.8"/>
<path d="M230.8,65.2 V32.2 Q233.8,29.9 236.9,32.2 V65.2" fill="#fff" stroke="#000" stroke-width="0.9"/>
<rect x="186" y="38.9" width="53" height="2" fill="#fff" stroke="none" stroke-width="0.8"/>
<line x1="211" y1="17.4" x2="227.6" y2="17.4" stroke="#000" stroke-width="1.2"/>
<text x="221.89" y="17.6" font-size="4.6" font-weight="bold" textLength="7.12" lengthAdjust="spacingAndGlyphs" stroke-width="0.42">***</text>
<line x1="200.3" y1="23" x2="217.5" y2="23" stroke="#000" stroke-width="1.2"/>
<text x="213.19" y="21.7" font-size="4.6" font-weight="bold" textLength="1.52" lengthAdjust="spacingAndGlyphs" stroke-width="0.42">*</text>
<line x1="193.9" y1="35.1" x2="210.4" y2="35.1" stroke="#000" stroke-width="1.2"/>
<text x="204.19" y="35.2" font-size="4.6" font-weight="bold" textLength="6.52" lengthAdjust="spacingAndGlyphs" stroke-width="0.42">***</text>
<rect x="236" y="18" width="3.4" height="3" fill="#000" stroke="none" stroke-width="0.8"/>
<text x="240.58" y="21.1" font-size="4.6" font-weight="bold" textLength="7.77" lengthAdjust="spacingAndGlyphs" stroke-width="0.42">γδT</text>
<rect x="236.3" y="24.1" width="2.9" height="2.5" fill="#fff" stroke="#000" stroke-width="0.8"/>
<text x="240.91" y="26.8" font-size="4.6" font-weight="bold" textLength="15.84" lengthAdjust="spacingAndGlyphs" stroke-width="0.42">CD4⁺T</text>
<text x="190.19" y="70.3" font-size="5" font-weight="bold" textLength="10.71" lengthAdjust="spacingAndGlyphs" stroke-width="0.45">day0</text>
<text x="208.79" y="70.3" font-size="5" font-weight="bold" textLength="10.59" lengthAdjust="spacingAndGlyphs" stroke-width="0.45">day3</text>
<text x="225.19" y="70.3" font-size="5" font-weight="bold" textLength="10.22" lengthAdjust="spacingAndGlyphs" stroke-width="0.45">day7</text>
<text x="196.06" y="76.2" font-size="3.6" font-weight="bold" textLength="27.66" lengthAdjust="spacingAndGlyphs" stroke-width="0.37">postinfection</text>
<text x="266.53" y="8.5" font-size="11.84" stroke-width="0.36">B</text>
<text x="281.34" y="7.9" font-size="8.47" font-weight="bold" stroke-width="0.64">pancreas</text>
<text x="291.74" y="15.8" font-size="6.24" font-weight="bold" stroke-width="0.51">day0</text>
<text x="343.84" y="15.8" font-size="6.22" font-weight="bold" stroke-width="0.51">day3</text>
<text x="391.06" y="15.8" font-size="5.83" font-weight="bold" stroke-width="0.49">day7</text>
<text x="281.05" y="19.2" font-size="3.6" font-weight="bold" textLength="9.95" lengthAdjust="spacingAndGlyphs" stroke-width="0.37">CD45</text>
<text x="275" y="45.84" font-size="6.62" font-weight="bold" transform="rotate(-90 275 45.84)" stroke-width="0.53">IL-17A</text>
<polyline points="272,47.6 272,70.4 352,70.4" stroke="#333" stroke-width="0.9" fill="none"/>
<text x="353.07" y="72.2" font-size="5.72" font-weight="bold" stroke-width="0.48">CD3</text>
<rect x="279.5" y="20.4" width="42.5" height="42.4" fill="none" stroke="#8c8c8c" stroke-width="0.7"/>
<line x1="300.8" y1="20.4" x2="300.8" y2="62.8" stroke="#b0b0b0" stroke-width="0.5"/>
<line x1="279.5" y1="37.4" x2="322" y2="37.4" stroke="#b0b0b0" stroke-width="0.5"/>
<text x="278.5" y="25.96" font-size="2.9" font-weight="bold" text-anchor="end" fill="#333" style="stroke:none">10<tspan dy="-1" font-size="2">4</tspan></text>
<text x="278.5" y="35.5" font-size="2.9" font-weight="bold" text-anchor="end" fill="#333" style="stroke:none">10<tspan dy="-1" font-size="2">3</tspan></text>
<text x="278.5" y="45.04" font-size="2.9" font-weight="bold" text-anchor="end" fill="#333" style="stroke:none">10<tspan dy="-1" font-size="2">2</tspan></text>
<text x="278.5" y="54.58" font-size="2.9" font-weight="bold" text-anchor="end" fill="#333" style="stroke:none">10<tspan dy="-1" font-size="2">1</tspan></text>
<text x="278.5" y="59.46" font-size="2.9" font-weight="bold" text-anchor="end" fill="#333" style="stroke:none">1</text>
<text x="283.54" y="66.5" font-size="2.9" font-weight="bold" text-anchor="middle" fill="#333" style="stroke:none">0</text>
<text x="288.85" y="66.5" font-size="2.9" font-weight="bold" text-anchor="middle" fill="#333" style="stroke:none">10<tspan dy="-1" font-size="2">2</tspan></text>
<text x="299.48" y="66.5" font-size="2.9" font-weight="bold" text-anchor="middle" fill="#333" style="stroke:none">10<tspan dy="-1" font-size="2">3</tspan></text>
<text x="309.25" y="66.5" font-size="2.9" font-weight="bold" text-anchor="middle" fill="#333" style="stroke:none">10<tspan dy="-1" font-size="2">4</tspan></text>
<text x="317.75" y="66.5" font-size="2.9" font-weight="bold" text-anchor="middle" fill="#333" style="stroke:none">10<tspan dy="-1" font-size="2">5</tspan></text>
<rect x="328.5" y="20.4" width="43.1" height="42.4" fill="none" stroke="#8c8c8c" stroke-width="0.7"/>
<line x1="349.8" y1="20.4" x2="349.8" y2="62.8" stroke="#b0b0b0" stroke-width="0.5"/>
<line x1="328.5" y1="36.8" x2="371.6" y2="36.8" stroke="#b0b0b0" stroke-width="0.5"/>
<text x="327.5" y="25.96" font-size="2.9" font-weight="bold" text-anchor="end" fill="#333" style="stroke:none">10<tspan dy="-1" font-size="2">4</tspan></text>
<text x="327.5" y="35.5" font-size="2.9" font-weight="bold" text-anchor="end" fill="#333" style="stroke:none">10<tspan dy="-1" font-size="2">3</tspan></text>
<text x="327.5" y="45.04" font-size="2.9" font-weight="bold" text-anchor="end" fill="#333" style="stroke:none">10<tspan dy="-1" font-size="2">2</tspan></text>
<text x="327.5" y="54.58" font-size="2.9" font-weight="bold" text-anchor="end" fill="#333" style="stroke:none">10<tspan dy="-1" font-size="2">1</tspan></text>
<text x="327.5" y="59.46" font-size="2.9" font-weight="bold" text-anchor="end" fill="#333" style="stroke:none">1</text>
<text x="332.59" y="66.5" font-size="2.9" font-weight="bold" text-anchor="middle" fill="#333" style="stroke:none">0</text>
<text x="337.98" y="66.5" font-size="2.9" font-weight="bold" text-anchor="middle" fill="#333" style="stroke:none">10<tspan dy="-1" font-size="2">2</tspan></text>
<text x="348.76" y="66.5" font-size="2.9" font-weight="bold" text-anchor="middle" fill="#333" style="stroke:none">10<tspan dy="-1" font-size="2">3</tspan></text>
<text x="358.67" y="66.5" font-size="2.9" font-weight="bold" text-anchor="middle" fill="#333" style="stroke:none">10<tspan dy="-1" font-size="2">4</tspan></text>
<text x="367.29" y="66.5" font-size="2.9" font-weight="bold" text-anchor="middle" fill="#333" style="stroke:none">10<tspan dy="-1" font-size="2">5</tspan></text>
<rect x="377.6" y="20.4" width="42.4" height="42.4" fill="none" stroke="#8c8c8c" stroke-width="0.7"/>
<line x1="401.5" y1="20.4" x2="401.5" y2="62.8" stroke="#b0b0b0" stroke-width="0.5"/>
<line x1="377.6" y1="36.8" x2="420" y2="36.8" stroke="#b0b0b0" stroke-width="0.5"/>
<text x="376.6" y="25.96" font-size="2.9" font-weight="bold" text-anchor="end" fill="#333" style="stroke:none">10<tspan dy="-1" font-size="2">4</tspan></text>
<text x="376.6" y="35.5" font-size="2.9" font-weight="bold" text-anchor="end" fill="#333" style="stroke:none">10<tspan dy="-1" font-size="2">3</tspan></text>
<text x="376.6" y="45.04" font-size="2.9" font-weight="bold" text-anchor="end" fill="#333" style="stroke:none">10<tspan dy="-1" font-size="2">2</tspan></text>
<text x="376.6" y="54.58" font-size="2.9" font-weight="bold" text-anchor="end" fill="#333" style="stroke:none">10<tspan dy="-1" font-size="2">1</tspan></text>
<text x="376.6" y="59.46" font-size="2.9" font-weight="bold" text-anchor="end" fill="#333" style="stroke:none">1</text>
<text x="381.63" y="66.5" font-size="2.9" font-weight="bold" text-anchor="middle" fill="#333" style="stroke:none">0</text>
<text x="386.93" y="66.5" font-size="2.9" font-weight="bold" text-anchor="middle" fill="#333" style="stroke:none">10<tspan dy="-1" font-size="2">2</tspan></text>
<text x="397.53" y="66.5" font-size="2.9" font-weight="bold" text-anchor="middle" fill="#333" style="stroke:none">10<tspan dy="-1" font-size="2">3</tspan></text>
<text x="407.28" y="66.5" font-size="2.9" font-weight="bold" text-anchor="middle" fill="#333" style="stroke:none">10<tspan dy="-1" font-size="2">4</tspan></text>
<text x="415.76" y="66.5" font-size="2.9" font-weight="bold" text-anchor="middle" fill="#333" style="stroke:none">10<tspan dy="-1" font-size="2">5</tspan></text>
<text x="282.72" y="26.2" font-size="4.5" font-weight="bold" textLength="9.2" lengthAdjust="spacingAndGlyphs" stroke-width="0.42">0.01</text>
<text x="310.82" y="26.2" font-size="4.5" font-weight="bold" textLength="9.26" lengthAdjust="spacingAndGlyphs" stroke-width="0.42">0.12</text>
<text x="312.24" y="57.8" font-size="4.5" font-weight="bold" textLength="8.83" lengthAdjust="spacingAndGlyphs" stroke-width="0.42">60.6</text>
<text x="331.02" y="26.2" font-size="4.5" font-weight="bold" textLength="9.2" lengthAdjust="spacingAndGlyphs" stroke-width="0.42">0.15</text>
<text x="360.82" y="26.2" font-size="4.5" font-weight="bold" textLength="9.26" lengthAdjust="spacingAndGlyphs" stroke-width="0.42">0.82</text>
<text x="361.34" y="57.8" font-size="4.5" font-weight="bold" textLength="8.89" lengthAdjust="spacingAndGlyphs" stroke-width="0.42">60.5</text>
<text x="380.32" y="26.2" font-size="4.5" font-weight="bold" textLength="5" lengthAdjust="spacingAndGlyphs" stroke-width="0.42">0.1</text>
<text x="410.52" y="26.2" font-size="4.5" font-weight="bold" textLength="9.36" lengthAdjust="spacingAndGlyphs" stroke-width="0.42">0.42</text>
<text x="410.14" y="57.8" font-size="4.5" font-weight="bold" textLength="8.73" lengthAdjust="spacingAndGlyphs" stroke-width="0.42">63.3</text>
<text x="281.24" y="61" font-size="2.6" font-weight="bold" textLength="4.03" lengthAdjust="spacingAndGlyphs" stroke-width="0.31">36.1</text>
<text x="330.24" y="61" font-size="2.6" font-weight="bold" textLength="4.03" lengthAdjust="spacingAndGlyphs" stroke-width="0.31">36.1</text>
<text x="379.74" y="61" font-size="2.6" font-weight="bold" textLength="4.03" lengthAdjust="spacingAndGlyphs" stroke-width="0.31">36.1</text>
<text x="449.69" y="12" font-size="6.21" font-weight="bold" stroke-width="0.51">pancreatic IL-17+ cells</text>
<line x1="448.4" y1="16" x2="448.4" y2="62.8" stroke="#000" stroke-width="1.15"/>
<line x1="447.9" y1="62.8" x2="507" y2="62.8" stroke="#000" stroke-width="1.15"/>
<line x1="447.1" y1="62.8" x2="448.4" y2="62.8" stroke="#000" stroke-width="0.7"/>
<text x="439.77" y="64.1" font-size="3.4" font-weight="bold" textLength="6.07" lengthAdjust="spacingAndGlyphs" stroke-width="0.36">0.0</text>
<line x1="447.1" y1="51.28" x2="448.4" y2="51.28" stroke="#000" stroke-width="0.7"/>
<text x="439.77" y="52.58" font-size="3.4" font-weight="bold" textLength="6.07" lengthAdjust="spacingAndGlyphs" stroke-width="0.36">0.2</text>
<line x1="447.1" y1="39.76" x2="448.4" y2="39.76" stroke="#000" stroke-width="0.7"/>
<text x="439.77" y="41.06" font-size="3.4" font-weight="bold" textLength="5.95" lengthAdjust="spacingAndGlyphs" stroke-width="0.36">0.4</text>
<line x1="447.1" y1="28.24" x2="448.4" y2="28.24" stroke="#000" stroke-width="0.7"/>
<text x="439.77" y="29.54" font-size="3.4" font-weight="bold" textLength="6.06" lengthAdjust="spacingAndGlyphs" stroke-width="0.36">0.6</text>
<line x1="447.1" y1="16.72" x2="448.4" y2="16.72" stroke="#000" stroke-width="0.7"/>
<text x="439.77" y="18.02" font-size="3.4" font-weight="bold" textLength="6.04" lengthAdjust="spacingAndGlyphs" stroke-width="0.36">0.8</text>
<line x1="458.6" y1="62.8" x2="458.6" y2="64" stroke="#000" stroke-width="0.7"/>
<line x1="477.8" y1="62.8" x2="477.8" y2="64" stroke="#000" stroke-width="0.7"/>
<line x1="497.3" y1="62.8" x2="497.3" y2="64" stroke="#000" stroke-width="0.7"/>
<text x="434.6" y="57.8" font-size="4.55" font-weight="bold" transform="rotate(-90 434.6 57.8)" stroke-width="0.42">IL-17A+ cells among</text>
<text x="438.6" y="54.39" font-size="4.69" font-weight="bold" transform="rotate(-90 438.6 54.39)" stroke-width="0.43">CD45 cells (%)</text>
<polyline points="458.6,57.62 477.8,29.39 497.3,43.1" stroke="#000" stroke-width="1.4" fill="none"/>
<polyline points="458.6,59.63 477.8,55.89 497.3,57.04" stroke="#000" stroke-width="1.4" fill="none"/>
<line x1="477.8" y1="25.4" x2="477.8" y2="31.5" stroke="#000" stroke-width="0.9"/>
<line x1="476.4" y1="25.4" x2="479.2" y2="25.4" stroke="#000" stroke-width="0.9"/>
<line x1="497.3" y1="38.8" x2="497.3" y2="46.5" stroke="#000" stroke-width="0.9"/>
<line x1="495.9" y1="38.8" x2="498.7" y2="38.8" stroke="#000" stroke-width="0.9"/>
<line x1="495.9" y1="46.5" x2="498.7" y2="46.5" stroke="#000" stroke-width="0.9"/>
<line x1="458.6" y1="55.5" x2="458.6" y2="59.5" stroke="#000" stroke-width="0.9"/>
<circle cx="458.6" cy="57.62" r="1.9" fill="#000" stroke="none" stroke-width="0.8"/>
<circle cx="477.8" cy="29.39" r="1.9" fill="#000" stroke="none" stroke-width="0.8"/>
<circle cx="497.3" cy="43.1" r="1.9" fill="#000" stroke="none" stroke-width="0.8"/>
<circle cx="458.6" cy="59.63" r="1.5" fill="#bbb" stroke="#000" stroke-width="1.1"/>
<circle cx="477.8" cy="55.89" r="1.5" fill="#bbb" stroke="#000" stroke-width="1.1"/>
<circle cx="497.3" cy="57.04" r="1.5" fill="#bbb" stroke="#000" stroke-width="1.1"/>
<text x="477.49" y="23.4" font-size="4.6" font-weight="bold" textLength="3.62" lengthAdjust="spacingAndGlyphs" stroke-width="0.42">**</text>
<text x="497.09" y="36.6" font-size="4.6" font-weight="bold" textLength="1.42" lengthAdjust="spacingAndGlyphs" stroke-width="0.42">*</text>
<circle cx="494.4" cy="18.7" r="1.9" fill="#000" stroke="none" stroke-width="0.8"/>
<text x="499.32" y="20.3" font-size="4.5" font-weight="bold" textLength="13.17" lengthAdjust="spacingAndGlyphs" stroke-width="0.42">CD3+</text>
<circle cx="494.4" cy="24.5" r="1.5" fill="#bbb" stroke="#000" stroke-width="1.1"/>
<text x="499.32" y="26" font-size="4.5" font-weight="bold" textLength="12.16" lengthAdjust="spacingAndGlyphs" stroke-width="0.42">CD3-</text>
<text x="452.19" y="68.9" font-size="5" font-weight="bold" textLength="9.91" lengthAdjust="spacingAndGlyphs" stroke-width="0.45">day 0</text>
<text x="469.69" y="68.9" font-size="5" font-weight="bold" textLength="11.89" lengthAdjust="spacingAndGlyphs" stroke-width="0.45">day 3</text>
<text x="487.89" y="68.9" font-size="5" font-weight="bold" textLength="11.92" lengthAdjust="spacingAndGlyphs" stroke-width="0.45">day 7</text>
<text x="462.96" y="74.7" font-size="3.7" font-weight="bold" textLength="26.07" lengthAdjust="spacingAndGlyphs" stroke-width="0.37">postinfection</text>
<text x="-0.29" y="90.3" font-size="11.68" stroke-width="0.35">C</text>
<text x="10.13" y="93.5" font-size="8.61" font-weight="bold" stroke-width="0.64">pancreas</text>
<text x="33.35" y="105.9" font-size="3.6" font-weight="bold" textLength="7.48" lengthAdjust="spacingAndGlyphs" stroke-width="0.37">CD3</text>
<text x="83.55" y="105.9" font-size="3.6" font-weight="bold" textLength="7.38" lengthAdjust="spacingAndGlyphs" stroke-width="0.37">CD3</text>
<text x="135.05" y="106.3" font-size="3.6" font-weight="bold" textLength="17.77" lengthAdjust="spacingAndGlyphs" stroke-width="0.37">CD3 CD4</text>
<text x="186.15" y="106.3" font-size="3.6" font-weight="bold" textLength="19.6" lengthAdjust="spacingAndGlyphs" stroke-width="0.37">CD3 TCRδ</text>
<text x="-0.4" y="135.5" font-size="6" font-weight="bold" textLength="21.91" lengthAdjust="spacingAndGlyphs" stroke-width="0.5">Isotype</text>
<text x="-0.25" y="182.6" font-size="6" font-weight="bold" textLength="14.49" lengthAdjust="spacingAndGlyphs" stroke-width="0.5">day0</text>
<text x="-0.25" y="232.6" font-size="6" font-weight="bold" textLength="14.16" lengthAdjust="spacingAndGlyphs" stroke-width="0.5">day3</text>
<text x="-0.25" y="281.4" font-size="6" font-weight="bold" textLength="14.21" lengthAdjust="spacingAndGlyphs" stroke-width="0.5">day7</text>
<text x="23.3" y="186.65" font-size="6.72" font-weight="bold" transform="rotate(-90 23.3 186.65)" stroke-width="0.54">IL-17A</text>
<polyline points="21.6,188.4 21.6,309 45,309" stroke="#333" stroke-width="0.9" fill="none"/>
<text x="46.27" y="311" font-size="5.63" font-weight="bold" stroke-width="0.48">CD4</text>
<line x1="78.3" y1="307.3" x2="91" y2="307.3" stroke="#333" stroke-width="0.9"/>
<text x="92.83" y="310.6" font-size="5.9" font-weight="bold" stroke-width="0.49">TCRδ</text>
<line x1="136.6" y1="307.5" x2="148.3" y2="307.5" stroke="#333" stroke-width="0.9"/>
<text x="152.55" y="310.4" font-size="6.19" font-weight="bold" stroke-width="0.51">CD4</text>
<line x1="186.3" y1="307.5" x2="198" y2="307.5" stroke="#333" stroke-width="0.9"/>
<text x="200.23" y="310.4" font-size="6.67" font-weight="bold" stroke-width="0.54">TCRδ</text>
<rect x="31.3" y="107.5" width="44.1" height="42.6" fill="none" stroke="#8c8c8c" stroke-width="0.7"/>
<text x="30.3" y="113.09" font-size="2.9" font-weight="bold" text-anchor="end" fill="#333" style="stroke:none">10<tspan dy="-1" font-size="2">4</tspan></text>
<text x="30.3" y="122.67" font-size="2.9" font-weight="bold" text-anchor="end" fill="#333" style="stroke:none">10<tspan dy="-1" font-size="2">3</tspan></text>
<text x="30.3" y="132.26" font-size="2.9" font-weight="bold" text-anchor="end" fill="#333" style="stroke:none">10<tspan dy="-1" font-size="2">2</tspan></text>
<text x="30.3" y="141.84" font-size="2.9" font-weight="bold" text-anchor="end" fill="#333" style="stroke:none">10<tspan dy="-1" font-size="2">1</tspan></text>
<text x="30.3" y="146.74" font-size="2.9" font-weight="bold" text-anchor="end" fill="#333" style="stroke:none">1</text>
<text x="35.49" y="153.8" font-size="2.9" font-weight="bold" text-anchor="middle" fill="#333" style="stroke:none">0</text>
<text x="41" y="153.8" font-size="2.9" font-weight="bold" text-anchor="middle" fill="#333" style="stroke:none">10<tspan dy="-1" font-size="2">2</tspan></text>
<text x="52.03" y="153.8" font-size="2.9" font-weight="bold" text-anchor="middle" fill="#333" style="stroke:none">10<tspan dy="-1" font-size="2">3</tspan></text>
<text x="62.17" y="153.8" font-size="2.9" font-weight="bold" text-anchor="middle" fill="#333" style="stroke:none">10<tspan dy="-1" font-size="2">4</tspan></text>
<text x="70.99" y="153.8" font-size="2.9" font-weight="bold" text-anchor="middle" fill="#333" style="stroke:none">10<tspan dy="-1" font-size="2">5</tspan></text>
<line x1="50.6" y1="107.5" x2="50.6" y2="150.1" stroke="#b0b0b0" stroke-width="0.5"/>
<line x1="31.3" y1="125.8" x2="75.4" y2="125.8" stroke="#b0b0b0" stroke-width="0.5"/>
<rect x="82.3" y="107.5" width="45" height="42.6" fill="none" stroke="#8c8c8c" stroke-width="0.7"/>
<text x="81.3" y="113.09" font-size="2.9" font-weight="bold" text-anchor="end" fill="#333" style="stroke:none">10<tspan dy="-1" font-size="2">4</tspan></text>
<text x="81.3" y="122.67" font-size="2.9" font-weight="bold" text-anchor="end" fill="#333" style="stroke:none">10<tspan dy="-1" font-size="2">3</tspan></text>
<text x="81.3" y="132.26" font-size="2.9" font-weight="bold" text-anchor="end" fill="#333" style="stroke:none">10<tspan dy="-1" font-size="2">2</tspan></text>
<text x="81.3" y="141.84" font-size="2.9" font-weight="bold" text-anchor="end" fill="#333" style="stroke:none">10<tspan dy="-1" font-size="2">1</tspan></text>
<text x="81.3" y="146.74" font-size="2.9" font-weight="bold" text-anchor="end" fill="#333" style="stroke:none">1</text>
<text x="86.58" y="153.8" font-size="2.9" font-weight="bold" text-anchor="middle" fill="#333" style="stroke:none">0</text>
<text x="92.2" y="153.8" font-size="2.9" font-weight="bold" text-anchor="middle" fill="#333" style="stroke:none">10<tspan dy="-1" font-size="2">2</tspan></text>
<text x="103.45" y="153.8" font-size="2.9" font-weight="bold" text-anchor="middle" fill="#333" style="stroke:none">10<tspan dy="-1" font-size="2">3</tspan></text>
<text x="113.8" y="153.8" font-size="2.9" font-weight="bold" text-anchor="middle" fill="#333" style="stroke:none">10<tspan dy="-1" font-size="2">4</tspan></text>
<text x="122.8" y="153.8" font-size="2.9" font-weight="bold" text-anchor="middle" fill="#333" style="stroke:none">10<tspan dy="-1" font-size="2">5</tspan></text>
<line x1="106.3" y1="107.5" x2="106.3" y2="150.1" stroke="#b0b0b0" stroke-width="0.5"/>
<line x1="82.3" y1="125.8" x2="127.3" y2="125.8" stroke="#b0b0b0" stroke-width="0.5"/>
<rect x="133.3" y="107.5" width="45" height="42.6" fill="none" stroke="#8c8c8c" stroke-width="0.7"/>
<text x="132.3" y="113.09" font-size="2.9" font-weight="bold" text-anchor="end" fill="#333" style="stroke:none">10<tspan dy="-1" font-size="2">4</tspan></text>
<text x="132.3" y="122.67" font-size="2.9" font-weight="bold" text-anchor="end" fill="#333" style="stroke:none">10<tspan dy="-1" font-size="2">3</tspan></text>
<text x="132.3" y="132.26" font-size="2.9" font-weight="bold" text-anchor="end" fill="#333" style="stroke:none">10<tspan dy="-1" font-size="2">2</tspan></text>
<text x="132.3" y="141.84" font-size="2.9" font-weight="bold" text-anchor="end" fill="#333" style="stroke:none">10<tspan dy="-1" font-size="2">1</tspan></text>
<text x="132.3" y="146.74" font-size="2.9" font-weight="bold" text-anchor="end" fill="#333" style="stroke:none">1</text>
<text x="137.58" y="153.8" font-size="2.9" font-weight="bold" text-anchor="middle" fill="#333" style="stroke:none">0</text>
<text x="143.2" y="153.8" font-size="2.9" font-weight="bold" text-anchor="middle" fill="#333" style="stroke:none">10<tspan dy="-1" font-size="2">2</tspan></text>
<text x="154.45" y="153.8" font-size="2.9" font-weight="bold" text-anchor="middle" fill="#333" style="stroke:none">10<tspan dy="-1" font-size="2">3</tspan></text>
<text x="164.8" y="153.8" font-size="2.9" font-weight="bold" text-anchor="middle" fill="#333" style="stroke:none">10<tspan dy="-1" font-size="2">4</tspan></text>
<text x="173.8" y="153.8" font-size="2.9" font-weight="bold" text-anchor="middle" fill="#333" style="stroke:none">10<tspan dy="-1" font-size="2">5</tspan></text>
<rect x="185.5" y="107.5" width="44.5" height="42.6" fill="none" stroke="#8c8c8c" stroke-width="0.7"/>
<text x="184.5" y="113.09" font-size="2.9" font-weight="bold" text-anchor="end" fill="#333" style="stroke:none">10<tspan dy="-1" font-size="2">4</tspan></text>
<text x="184.5" y="122.67" font-size="2.9" font-weight="bold" text-anchor="end" fill="#333" style="stroke:none">10<tspan dy="-1" font-size="2">3</tspan></text>
<text x="184.5" y="132.26" font-size="2.9" font-weight="bold" text-anchor="end" fill="#333" style="stroke:none">10<tspan dy="-1" font-size="2">2</tspan></text>
<text x="184.5" y="141.84" font-size="2.9" font-weight="bold" text-anchor="end" fill="#333" style="stroke:none">10<tspan dy="-1" font-size="2">1</tspan></text>
<text x="184.5" y="146.74" font-size="2.9" font-weight="bold" text-anchor="end" fill="#333" style="stroke:none">1</text>
<text x="189.73" y="153.8" font-size="2.9" font-weight="bold" text-anchor="middle" fill="#333" style="stroke:none">0</text>
<text x="195.29" y="153.8" font-size="2.9" font-weight="bold" text-anchor="middle" fill="#333" style="stroke:none">10<tspan dy="-1" font-size="2">2</tspan></text>
<text x="206.41" y="153.8" font-size="2.9" font-weight="bold" text-anchor="middle" fill="#333" style="stroke:none">10<tspan dy="-1" font-size="2">3</tspan></text>
<text x="216.65" y="153.8" font-size="2.9" font-weight="bold" text-anchor="middle" fill="#333" style="stroke:none">10<tspan dy="-1" font-size="2">4</tspan></text>
<text x="225.55" y="153.8" font-size="2.9" font-weight="bold" text-anchor="middle" fill="#333" style="stroke:none">10<tspan dy="-1" font-size="2">5</tspan></text>
<rect x="31.3" y="156.3" width="44.1" height="42.6" fill="none" stroke="#8c8c8c" stroke-width="0.7"/>
<text x="30.3" y="161.89" font-size="2.9" font-weight="bold" text-anchor="end" fill="#333" style="stroke:none">10<tspan dy="-1" font-size="2">4</tspan></text>
<text x="30.3" y="171.47" font-size="2.9" font-weight="bold" text-anchor="end" fill="#333" style="stroke:none">10<tspan dy="-1" font-size="2">3</tspan></text>
<text x="30.3" y="181.06" font-size="2.9" font-weight="bold" text-anchor="end" fill="#333" style="stroke:none">10<tspan dy="-1" font-size="2">2</tspan></text>
<text x="30.3" y="190.64" font-size="2.9" font-weight="bold" text-anchor="end" fill="#333" style="stroke:none">10<tspan dy="-1" font-size="2">1</tspan></text>
<text x="30.3" y="195.54" font-size="2.9" font-weight="bold" text-anchor="end" fill="#333" style="stroke:none">1</text>
<text x="35.49" y="202.6" font-size="2.9" font-weight="bold" text-anchor="middle" fill="#333" style="stroke:none">0</text>
<text x="41" y="202.6" font-size="2.9" font-weight="bold" text-anchor="middle" fill="#333" style="stroke:none">10<tspan dy="-1" font-size="2">2</tspan></text>
<text x="52.03" y="202.6" font-size="2.9" font-weight="bold" text-anchor="middle" fill="#333" style="stroke:none">10<tspan dy="-1" font-size="2">3</tspan></text>
<text x="62.17" y="202.6" font-size="2.9" font-weight="bold" text-anchor="middle" fill="#333" style="stroke:none">10<tspan dy="-1" font-size="2">4</tspan></text>
<text x="70.99" y="202.6" font-size="2.9" font-weight="bold" text-anchor="middle" fill="#333" style="stroke:none">10<tspan dy="-1" font-size="2">5</tspan></text>
<line x1="50.6" y1="156.3" x2="50.6" y2="198.9" stroke="#b0b0b0" stroke-width="0.5"/>
<line x1="31.3" y1="174.6" x2="75.4" y2="174.6" stroke="#b0b0b0" stroke-width="0.5"/>
<rect x="82.3" y="156.3" width="45" height="42.6" fill="none" stroke="#8c8c8c" stroke-width="0.7"/>
<text x="81.3" y="161.89" font-size="2.9" font-weight="bold" text-anchor="end" fill="#333" style="stroke:none">10<tspan dy="-1" font-size="2">4</tspan></text>
<text x="81.3" y="171.47" font-size="2.9" font-weight="bold" text-anchor="end" fill="#333" style="stroke:none">10<tspan dy="-1" font-size="2">3</tspan></text>
<text x="81.3" y="181.06" font-size="2.9" font-weight="bold" text-anchor="end" fill="#333" style="stroke:none">10<tspan dy="-1" font-size="2">2</tspan></text>
<text x="81.3" y="190.64" font-size="2.9" font-weight="bold" text-anchor="end" fill="#333" style="stroke:none">10<tspan dy="-1" font-size="2">1</tspan></text>
<text x="81.3" y="195.54" font-size="2.9" font-weight="bold" text-anchor="end" fill="#333" style="stroke:none">1</text>
<text x="86.58" y="202.6" font-size="2.9" font-weight="bold" text-anchor="middle" fill="#333" style="stroke:none">0</text>
<text x="92.2" y="202.6" font-size="2.9" font-weight="bold" text-anchor="middle" fill="#333" style="stroke:none">10<tspan dy="-1" font-size="2">2</tspan></text>
<text x="103.45" y="202.6" font-size="2.9" font-weight="bold" text-anchor="middle" fill="#333" style="stroke:none">10<tspan dy="-1" font-size="2">3</tspan></text>
<text x="113.8" y="202.6" font-size="2.9" font-weight="bold" text-anchor="middle" fill="#333" style="stroke:none">10<tspan dy="-1" font-size="2">4</tspan></text>
<text x="122.8" y="202.6" font-size="2.9" font-weight="bold" text-anchor="middle" fill="#333" style="stroke:none">10<tspan dy="-1" font-size="2">5</tspan></text>
<line x1="106.3" y1="156.3" x2="106.3" y2="198.9" stroke="#b0b0b0" stroke-width="0.5"/>
<line x1="82.3" y1="174.6" x2="127.3" y2="174.6" stroke="#b0b0b0" stroke-width="0.5"/>
<rect x="133.3" y="156.3" width="45" height="42.6" fill="none" stroke="#8c8c8c" stroke-width="0.7"/>
<text x="132.3" y="161.89" font-size="2.9" font-weight="bold" text-anchor="end" fill="#333" style="stroke:none">10<tspan dy="-1" font-size="2">4</tspan></text>
<text x="132.3" y="171.47" font-size="2.9" font-weight="bold" text-anchor="end" fill="#333" style="stroke:none">10<tspan dy="-1" font-size="2">3</tspan></text>
<text x="132.3" y="181.06" font-size="2.9" font-weight="bold" text-anchor="end" fill="#333" style="stroke:none">10<tspan dy="-1" font-size="2">2</tspan></text>
<text x="132.3" y="190.64" font-size="2.9" font-weight="bold" text-anchor="end" fill="#333" style="stroke:none">10<tspan dy="-1" font-size="2">1</tspan></text>
<text x="132.3" y="195.54" font-size="2.9" font-weight="bold" text-anchor="end" fill="#333" style="stroke:none">1</text>
<text x="137.58" y="202.6" font-size="2.9" font-weight="bold" text-anchor="middle" fill="#333" style="stroke:none">0</text>
<text x="143.2" y="202.6" font-size="2.9" font-weight="bold" text-anchor="middle" fill="#333" style="stroke:none">10<tspan dy="-1" font-size="2">2</tspan></text>
<text x="154.45" y="202.6" font-size="2.9" font-weight="bold" text-anchor="middle" fill="#333" style="stroke:none">10<tspan dy="-1" font-size="2">3</tspan></text>
<text x="164.8" y="202.6" font-size="2.9" font-weight="bold" text-anchor="middle" fill="#333" style="stroke:none">10<tspan dy="-1" font-size="2">4</tspan></text>
<text x="173.8" y="202.6" font-size="2.9" font-weight="bold" text-anchor="middle" fill="#333" style="stroke:none">10<tspan dy="-1" font-size="2">5</tspan></text>
<rect x="185.5" y="156.3" width="44.5" height="42.6" fill="none" stroke="#8c8c8c" stroke-width="0.7"/>
<text x="184.5" y="161.89" font-size="2.9" font-weight="bold" text-anchor="end" fill="#333" style="stroke:none">10<tspan dy="-1" font-size="2">4</tspan></text>
<text x="184.5" y="171.47" font-size="2.9" font-weight="bold" text-anchor="end" fill="#333" style="stroke:none">10<tspan dy="-1" font-size="2">3</tspan></text>
<text x="184.5" y="181.06" font-size="2.9" font-weight="bold" text-anchor="end" fill="#333" style="stroke:none">10<tspan dy="-1" font-size="2">2</tspan></text>
<text x="184.5" y="190.64" font-size="2.9" font-weight="bold" text-anchor="end" fill="#333" style="stroke:none">10<tspan dy="-1" font-size="2">1</tspan></text>
<text x="184.5" y="195.54" font-size="2.9" font-weight="bold" text-anchor="end" fill="#333" style="stroke:none">1</text>
<text x="189.73" y="202.6" font-size="2.9" font-weight="bold" text-anchor="middle" fill="#333" style="stroke:none">0</text>
<text x="195.29" y="202.6" font-size="2.9" font-weight="bold" text-anchor="middle" fill="#333" style="stroke:none">10<tspan dy="-1" font-size="2">2</tspan></text>
<text x="206.41" y="202.6" font-size="2.9" font-weight="bold" text-anchor="middle" fill="#333" style="stroke:none">10<tspan dy="-1" font-size="2">3</tspan></text>
<text x="216.65" y="202.6" font-size="2.9" font-weight="bold" text-anchor="middle" fill="#333" style="stroke:none">10<tspan dy="-1" font-size="2">4</tspan></text>
<text x="225.55" y="202.6" font-size="2.9" font-weight="bold" text-anchor="middle" fill="#333" style="stroke:none">10<tspan dy="-1" font-size="2">5</tspan></text>
<rect x="31.3" y="206" width="44.1" height="42.6" fill="none" stroke="#8c8c8c" stroke-width="0.7"/>
<text x="30.3" y="211.59" font-size="2.9" font-weight="bold" text-anchor="end" fill="#333" style="stroke:none">10<tspan dy="-1" font-size="2">4</tspan></text>
<text x="30.3" y="221.17" font-size="2.9" font-weight="bold" text-anchor="end" fill="#333" style="stroke:none">10<tspan dy="-1" font-size="2">3</tspan></text>
<text x="30.3" y="230.76" font-size="2.9" font-weight="bold" text-anchor="end" fill="#333" style="stroke:none">10<tspan dy="-1" font-size="2">2</tspan></text>
<text x="30.3" y="240.34" font-size="2.9" font-weight="bold" text-anchor="end" fill="#333" style="stroke:none">10<tspan dy="-1" font-size="2">1</tspan></text>
<text x="30.3" y="245.24" font-size="2.9" font-weight="bold" text-anchor="end" fill="#333" style="stroke:none">1</text>
<text x="35.49" y="252.3" font-size="2.9" font-weight="bold" text-anchor="middle" fill="#333" style="stroke:none">0</text>
<text x="41" y="252.3" font-size="2.9" font-weight="bold" text-anchor="middle" fill="#333" style="stroke:none">10<tspan dy="-1" font-size="2">2</tspan></text>
<text x="52.03" y="252.3" font-size="2.9" font-weight="bold" text-anchor="middle" fill="#333" style="stroke:none">10<tspan dy="-1" font-size="2">3</tspan></text>
<text x="62.17" y="252.3" font-size="2.9" font-weight="bold" text-anchor="middle" fill="#333" style="stroke:none">10<tspan dy="-1" font-size="2">4</tspan></text>
<text x="70.99" y="252.3" font-size="2.9" font-weight="bold" text-anchor="middle" fill="#333" style="stroke:none">10<tspan dy="-1" font-size="2">5</tspan></text>
<line x1="50.6" y1="206" x2="50.6" y2="248.6" stroke="#b0b0b0" stroke-width="0.5"/>
<line x1="31.3" y1="224.3" x2="75.4" y2="224.3" stroke="#b0b0b0" stroke-width="0.5"/>
<rect x="82.3" y="206" width="45" height="42.6" fill="none" stroke="#8c8c8c" stroke-width="0.7"/>
<text x="81.3" y="211.59" font-size="2.9" font-weight="bold" text-anchor="end" fill="#333" style="stroke:none">10<tspan dy="-1" font-size="2">4</tspan></text>
<text x="81.3" y="221.17" font-size="2.9" font-weight="bold" text-anchor="end" fill="#333" style="stroke:none">10<tspan dy="-1" font-size="2">3</tspan></text>
<text x="81.3" y="230.76" font-size="2.9" font-weight="bold" text-anchor="end" fill="#333" style="stroke:none">10<tspan dy="-1" font-size="2">2</tspan></text>
<text x="81.3" y="240.34" font-size="2.9" font-weight="bold" text-anchor="end" fill="#333" style="stroke:none">10<tspan dy="-1" font-size="2">1</tspan></text>
<text x="81.3" y="245.24" font-size="2.9" font-weight="bold" text-anchor="end" fill="#333" style="stroke:none">1</text>
<text x="86.58" y="252.3" font-size="2.9" font-weight="bold" text-anchor="middle" fill="#333" style="stroke:none">0</text>
<text x="92.2" y="252.3" font-size="2.9" font-weight="bold" text-anchor="middle" fill="#333" style="stroke:none">10<tspan dy="-1" font-size="2">2</tspan></text>
<text x="103.45" y="252.3" font-size="2.9" font-weight="bold" text-anchor="middle" fill="#333" style="stroke:none">10<tspan dy="-1" font-size="2">3</tspan></text>
<text x="113.8" y="252.3" font-size="2.9" font-weight="bold" text-anchor="middle" fill="#333" style="stroke:none">10<tspan dy="-1" font-size="2">4</tspan></text>
<text x="122.8" y="252.3" font-size="2.9" font-weight="bold" text-anchor="middle" fill="#333" style="stroke:none">10<tspan dy="-1" font-size="2">5</tspan></text>
<line x1="106.3" y1="206" x2="106.3" y2="248.6" stroke="#b0b0b0" stroke-width="0.5"/>
<line x1="82.3" y1="224.3" x2="127.3" y2="224.3" stroke="#b0b0b0" stroke-width="0.5"/>
<rect x="133.3" y="206" width="45" height="42.6" fill="none" stroke="#8c8c8c" stroke-width="0.7"/>
<text x="132.3" y="211.59" font-size="2.9" font-weight="bold" text-anchor="end" fill="#333" style="stroke:none">10<tspan dy="-1" font-size="2">4</tspan></text>
<text x="132.3" y="221.17" font-size="2.9" font-weight="bold" text-anchor="end" fill="#333" style="stroke:none">10<tspan dy="-1" font-size="2">3</tspan></text>
<text x="132.3" y="230.76" font-size="2.9" font-weight="bold" text-anchor="end" fill="#333" style="stroke:none">10<tspan dy="-1" font-size="2">2</tspan></text>
<text x="132.3" y="240.34" font-size="2.9" font-weight="bold" text-anchor="end" fill="#333" style="stroke:none">10<tspan dy="-1" font-size="2">1</tspan></text>
<text x="132.3" y="245.24" font-size="2.9" font-weight="bold" text-anchor="end" fill="#333" style="stroke:none">1</text>
<text x="137.58" y="252.3" font-size="2.9" font-weight="bold" text-anchor="middle" fill="#333" style="stroke:none">0</text>
<text x="143.2" y="252.3" font-size="2.9" font-weight="bold" text-anchor="middle" fill="#333" style="stroke:none">10<tspan dy="-1" font-size="2">2</tspan></text>
<text x="154.45" y="252.3" font-size="2.9" font-weight="bold" text-anchor="middle" fill="#333" style="stroke:none">10<tspan dy="-1" font-size="2">3</tspan></text>
<text x="164.8" y="252.3" font-size="2.9" font-weight="bold" text-anchor="middle" fill="#333" style="stroke:none">10<tspan dy="-1" font-size="2">4</tspan></text>
<text x="173.8" y="252.3" font-size="2.9" font-weight="bold" text-anchor="middle" fill="#333" style="stroke:none">10<tspan dy="-1" font-size="2">5</tspan></text>
<rect x="185.5" y="206" width="44.5" height="42.6" fill="none" stroke="#8c8c8c" stroke-width="0.7"/>
<text x="184.5" y="211.59" font-size="2.9" font-weight="bold" text-anchor="end" fill="#333" style="stroke:none">10<tspan dy="-1" font-size="2">4</tspan></text>
<text x="184.5" y="221.17" font-size="2.9" font-weight="bold" text-anchor="end" fill="#333" style="stroke:none">10<tspan dy="-1" font-size="2">3</tspan></text>
<text x="184.5" y="230.76" font-size="2.9" font-weight="bold" text-anchor="end" fill="#333" style="stroke:none">10<tspan dy="-1" font-size="2">2</tspan></text>
<text x="184.5" y="240.34" font-size="2.9" font-weight="bold" text-anchor="end" fill="#333" style="stroke:none">10<tspan dy="-1" font-size="2">1</tspan></text>
<text x="184.5" y="245.24" font-size="2.9" font-weight="bold" text-anchor="end" fill="#333" style="stroke:none">1</text>
<text x="189.73" y="252.3" font-size="2.9" font-weight="bold" text-anchor="middle" fill="#333" style="stroke:none">0</text>
<text x="195.29" y="252.3" font-size="2.9" font-weight="bold" text-anchor="middle" fill="#333" style="stroke:none">10<tspan dy="-1" font-size="2">2</tspan></text>
<text x="206.41" y="252.3" font-size="2.9" font-weight="bold" text-anchor="middle" fill="#333" style="stroke:none">10<tspan dy="-1" font-size="2">3</tspan></text>
<text x="216.65" y="252.3" font-size="2.9" font-weight="bold" text-anchor="middle" fill="#333" style="stroke:none">10<tspan dy="-1" font-size="2">4</tspan></text>
<text x="225.55" y="252.3" font-size="2.9" font-weight="bold" text-anchor="middle" fill="#333" style="stroke:none">10<tspan dy="-1" font-size="2">5</tspan></text>
<rect x="31.3" y="256.2" width="44.1" height="42.6" fill="none" stroke="#8c8c8c" stroke-width="0.7"/>
<text x="30.3" y="261.79" font-size="2.9" font-weight="bold" text-anchor="end" fill="#333" style="stroke:none">10<tspan dy="-1" font-size="2">4</tspan></text>
<text x="30.3" y="271.37" font-size="2.9" font-weight="bold" text-anchor="end" fill="#333" style="stroke:none">10<tspan dy="-1" font-size="2">3</tspan></text>
<text x="30.3" y="280.96" font-size="2.9" font-weight="bold" text-anchor="end" fill="#333" style="stroke:none">10<tspan dy="-1" font-size="2">2</tspan></text>
<text x="30.3" y="290.54" font-size="2.9" font-weight="bold" text-anchor="end" fill="#333" style="stroke:none">10<tspan dy="-1" font-size="2">1</tspan></text>
<text x="30.3" y="295.44" font-size="2.9" font-weight="bold" text-anchor="end" fill="#333" style="stroke:none">1</text>
<text x="35.49" y="302.5" font-size="2.9" font-weight="bold" text-anchor="middle" fill="#333" style="stroke:none">0</text>
<text x="41" y="302.5" font-size="2.9" font-weight="bold" text-anchor="middle" fill="#333" style="stroke:none">10<tspan dy="-1" font-size="2">2</tspan></text>
<text x="52.03" y="302.5" font-size="2.9" font-weight="bold" text-anchor="middle" fill="#333" style="stroke:none">10<tspan dy="-1" font-size="2">3</tspan></text>
<text x="62.17" y="302.5" font-size="2.9" font-weight="bold" text-anchor="middle" fill="#333" style="stroke:none">10<tspan dy="-1" font-size="2">4</tspan></text>
<text x="70.99" y="302.5" font-size="2.9" font-weight="bold" text-anchor="middle" fill="#333" style="stroke:none">10<tspan dy="-1" font-size="2">5</tspan></text>
<line x1="50.6" y1="256.2" x2="50.6" y2="298.8" stroke="#b0b0b0" stroke-width="0.5"/>
<line x1="31.3" y1="274.5" x2="75.4" y2="274.5" stroke="#b0b0b0" stroke-width="0.5"/>
<rect x="82.3" y="256.2" width="45" height="42.6" fill="none" stroke="#8c8c8c" stroke-width="0.7"/>
<text x="81.3" y="261.79" font-size="2.9" font-weight="bold" text-anchor="end" fill="#333" style="stroke:none">10<tspan dy="-1" font-size="2">4</tspan></text>
<text x="81.3" y="271.37" font-size="2.9" font-weight="bold" text-anchor="end" fill="#333" style="stroke:none">10<tspan dy="-1" font-size="2">3</tspan></text>
<text x="81.3" y="280.96" font-size="2.9" font-weight="bold" text-anchor="end" fill="#333" style="stroke:none">10<tspan dy="-1" font-size="2">2</tspan></text>
<text x="81.3" y="290.54" font-size="2.9" font-weight="bold" text-anchor="end" fill="#333" style="stroke:none">10<tspan dy="-1" font-size="2">1</tspan></text>
<text x="81.3" y="295.44" font-size="2.9" font-weight="bold" text-anchor="end" fill="#333" style="stroke:none">1</text>
<text x="86.58" y="302.5" font-size="2.9" font-weight="bold" text-anchor="middle" fill="#333" style="stroke:none">0</text>
<text x="92.2" y="302.5" font-size="2.9" font-weight="bold" text-anchor="middle" fill="#333" style="stroke:none">10<tspan dy="-1" font-size="2">2</tspan></text>
<text x="103.45" y="302.5" font-size="2.9" font-weight="bold" text-anchor="middle" fill="#333" style="stroke:none">10<tspan dy="-1" font-size="2">3</tspan></text>
<text x="113.8" y="302.5" font-size="2.9" font-weight="bold" text-anchor="middle" fill="#333" style="stroke:none">10<tspan dy="-1" font-size="2">4</tspan></text>
<text x="122.8" y="302.5" font-size="2.9" font-weight="bold" text-anchor="middle" fill="#333" style="stroke:none">10<tspan dy="-1" font-size="2">5</tspan></text>
<line x1="106.3" y1="256.2" x2="106.3" y2="298.8" stroke="#b0b0b0" stroke-width="0.5"/>
<line x1="82.3" y1="274.5" x2="127.3" y2="274.5" stroke="#b0b0b0" stroke-width="0.5"/>
<rect x="133.3" y="256.2" width="45" height="42.6" fill="none" stroke="#8c8c8c" stroke-width="0.7"/>
<text x="132.3" y="261.79" font-size="2.9" font-weight="bold" text-anchor="end" fill="#333" style="stroke:none">10<tspan dy="-1" font-size="2">4</tspan></text>
<text x="132.3" y="271.37" font-size="2.9" font-weight="bold" text-anchor="end" fill="#333" style="stroke:none">10<tspan dy="-1" font-size="2">3</tspan></text>
<text x="132.3" y="280.96" font-size="2.9" font-weight="bold" text-anchor="end" fill="#333" style="stroke:none">10<tspan dy="-1" font-size="2">2</tspan></text>
<text x="132.3" y="290.54" font-size="2.9" font-weight="bold" text-anchor="end" fill="#333" style="stroke:none">10<tspan dy="-1" font-size="2">1</tspan></text>
<text x="132.3" y="295.44" font-size="2.9" font-weight="bold" text-anchor="end" fill="#333" style="stroke:none">1</text>
<text x="137.58" y="302.5" font-size="2.9" font-weight="bold" text-anchor="middle" fill="#333" style="stroke:none">0</text>
<text x="143.2" y="302.5" font-size="2.9" font-weight="bold" text-anchor="middle" fill="#333" style="stroke:none">10<tspan dy="-1" font-size="2">2</tspan></text>
<text x="154.45" y="302.5" font-size="2.9" font-weight="bold" text-anchor="middle" fill="#333" style="stroke:none">10<tspan dy="-1" font-size="2">3</tspan></text>
<text x="164.8" y="302.5" font-size="2.9" font-weight="bold" text-anchor="middle" fill="#333" style="stroke:none">10<tspan dy="-1" font-size="2">4</tspan></text>
<text x="173.8" y="302.5" font-size="2.9" font-weight="bold" text-anchor="middle" fill="#333" style="stroke:none">10<tspan dy="-1" font-size="2">5</tspan></text>
<rect x="185.5" y="256.2" width="44.5" height="42.6" fill="none" stroke="#8c8c8c" stroke-width="0.7"/>
<text x="184.5" y="261.79" font-size="2.9" font-weight="bold" text-anchor="end" fill="#333" style="stroke:none">10<tspan dy="-1" font-size="2">4</tspan></text>
<text x="184.5" y="271.37" font-size="2.9" font-weight="bold" text-anchor="end" fill="#333" style="stroke:none">10<tspan dy="-1" font-size="2">3</tspan></text>
<text x="184.5" y="280.96" font-size="2.9" font-weight="bold" text-anchor="end" fill="#333" style="stroke:none">10<tspan dy="-1" font-size="2">2</tspan></text>
<text x="184.5" y="290.54" font-size="2.9" font-weight="bold" text-anchor="end" fill="#333" style="stroke:none">10<tspan dy="-1" font-size="2">1</tspan></text>
<text x="184.5" y="295.44" font-size="2.9" font-weight="bold" text-anchor="end" fill="#333" style="stroke:none">1</text>
<text x="189.73" y="302.5" font-size="2.9" font-weight="bold" text-anchor="middle" fill="#333" style="stroke:none">0</text>
<text x="195.29" y="302.5" font-size="2.9" font-weight="bold" text-anchor="middle" fill="#333" style="stroke:none">10<tspan dy="-1" font-size="2">2</tspan></text>
<text x="206.41" y="302.5" font-size="2.9" font-weight="bold" text-anchor="middle" fill="#333" style="stroke:none">10<tspan dy="-1" font-size="2">3</tspan></text>
<text x="216.65" y="302.5" font-size="2.9" font-weight="bold" text-anchor="middle" fill="#333" style="stroke:none">10<tspan dy="-1" font-size="2">4</tspan></text>
<text x="225.55" y="302.5" font-size="2.9" font-weight="bold" text-anchor="middle" fill="#333" style="stroke:none">10<tspan dy="-1" font-size="2">5</tspan></text>
<text x="32.8" y="112.6" font-size="4.5" font-weight="bold" stroke-width="0.42">0.03</text>
<text x="74.4" y="112.6" font-size="4.5" font-weight="bold" text-anchor="end" stroke-width="0.42">0.02</text>
<text x="74.4" y="147.5" font-size="4.5" font-weight="bold" text-anchor="end" stroke-width="0.42">43.9</text>
<text x="32.7" y="149.1" font-size="2.8" font-weight="bold" fill="#222" stroke-width="0.32">66.1</text>
<text x="83.8" y="112.6" font-size="4.5" font-weight="bold" stroke-width="0.42">0.04</text>
<text x="126.3" y="112.6" font-size="4.5" font-weight="bold" text-anchor="end" stroke-width="0.42">0.01</text>
<text x="126.3" y="147.5" font-size="4.5" font-weight="bold" text-anchor="end" stroke-width="0.42">0.5</text>
<text x="83.7" y="149.1" font-size="2.8" font-weight="bold" fill="#222" stroke-width="0.32">66.1</text>
<text x="32.8" y="161.4" font-size="4.5" font-weight="bold" stroke-width="0.42">0.08</text>
<text x="74.4" y="161.4" font-size="4.5" font-weight="bold" text-anchor="end" stroke-width="0.42">0.1</text>
<text x="74.4" y="196.3" font-size="4.5" font-weight="bold" text-anchor="end" stroke-width="0.42">43.6</text>
<text x="32.7" y="197.9" font-size="2.8" font-weight="bold" fill="#222" stroke-width="0.32">66.1</text>
<text x="83.8" y="161.4" font-size="4.5" font-weight="bold" stroke-width="0.42">0.1</text>
<text x="126.3" y="161.4" font-size="4.5" font-weight="bold" text-anchor="end" stroke-width="0.42">0.1</text>
<text x="126.3" y="196.3" font-size="4.5" font-weight="bold" text-anchor="end" stroke-width="0.42">1.8</text>
<text x="83.7" y="197.9" font-size="2.8" font-weight="bold" fill="#222" stroke-width="0.32">66.1</text>
<text x="32.8" y="211.1" font-size="4.5" font-weight="bold" stroke-width="0.42">0.32</text>
<text x="74.4" y="211.1" font-size="4.5" font-weight="bold" text-anchor="end" stroke-width="0.42">0.19</text>
<text x="74.4" y="246" font-size="4.5" font-weight="bold" text-anchor="end" stroke-width="0.42">45.7</text>
<text x="32.7" y="247.6" font-size="2.8" font-weight="bold" fill="#222" stroke-width="0.32">66.1</text>
<text x="83.8" y="211.1" font-size="4.5" font-weight="bold" stroke-width="0.42">0.2</text>
<text x="126.3" y="211.1" font-size="4.5" font-weight="bold" text-anchor="end" stroke-width="0.42">0.3</text>
<text x="126.3" y="246" font-size="4.5" font-weight="bold" text-anchor="end" stroke-width="0.42">2.4</text>
<text x="83.7" y="247.6" font-size="2.8" font-weight="bold" fill="#222" stroke-width="0.32">66.1</text>
<text x="32.8" y="261.3" font-size="4.5" font-weight="bold" stroke-width="0.42">0.28</text>
<text x="74.4" y="261.3" font-size="4.5" font-weight="bold" text-anchor="end" stroke-width="0.42">0.35</text>
<text x="74.4" y="296.2" font-size="4.5" font-weight="bold" text-anchor="end" stroke-width="0.42">45.2</text>
<text x="32.7" y="297.8" font-size="2.8" font-weight="bold" fill="#222" stroke-width="0.32">66.1</text>
<text x="83.8" y="261.3" font-size="4.5" font-weight="bold" stroke-width="0.42">0.5</text>
<text x="126.3" y="261.3" font-size="4.5" font-weight="bold" text-anchor="end" stroke-width="0.42">0.08</text>
<text x="126.3" y="296.2" font-size="4.5" font-weight="bold" text-anchor="end" stroke-width="0.42">0.75</text>
<text x="83.7" y="297.8" font-size="2.8" font-weight="bold" fill="#222" stroke-width="0.32">66.1</text>
<text x="141.8" y="116.8" font-size="4.5" font-weight="bold" stroke-width="0.42">0.02</text>
<rect x="152.3" y="107.5" width="13.6" height="18.2" fill="none" stroke="#999" stroke-width="0.5"/>
<text x="197" y="116.5" font-size="4.5" font-weight="bold" stroke-width="0.42">0</text>
<rect x="204.3" y="110.5" width="16" height="12.5" fill="none" stroke="#999" stroke-width="0.5"/>
<text x="141.8" y="165.3" font-size="4.5" font-weight="bold" stroke-width="0.42">0.3</text>
<rect x="152.3" y="156.3" width="13.6" height="18.2" fill="none" stroke="#999" stroke-width="0.5"/>
<text x="192.8" y="165.3" font-size="4.5" font-weight="bold" stroke-width="0.42">2.65</text>
<rect x="204.3" y="159.6" width="16" height="14.2" fill="none" stroke="#999" stroke-width="0.5"/>
<text x="141.8" y="215" font-size="4.5" font-weight="bold" stroke-width="0.42">5.4</text>
<rect x="152.3" y="206" width="13.6" height="18.2" fill="none" stroke="#999" stroke-width="0.5"/>
<text x="192.8" y="215" font-size="4.5" font-weight="bold" stroke-width="0.42">10.8</text>
<rect x="204.3" y="209.3" width="16" height="14.2" fill="none" stroke="#999" stroke-width="0.5"/>
<text x="141.8" y="265.2" font-size="4.5" font-weight="bold" stroke-width="0.42">0.6</text>
<rect x="152.3" y="256.2" width="13.6" height="18.2" fill="none" stroke="#999" stroke-width="0.5"/>
<text x="192.8" y="265.2" font-size="4.5" font-weight="bold" stroke-width="0.42">0.6</text>
<rect x="204.3" y="259.5" width="16" height="14.2" fill="none" stroke="#999" stroke-width="0.5"/>
<text x="240.56" y="90" font-size="13.84" stroke-width="0.42">D</text>
<text x="254.74" y="91.5" font-size="8.43" font-weight="bold" stroke-width="0.63">pancreas</text>
<text x="266.54" y="100.3" font-size="6.23" font-weight="bold" stroke-width="0.51">day3 IL-17+ cells</text>
<line x1="264.7" y1="109.6" x2="264.7" y2="156.6" stroke="#000" stroke-width="1.15"/>
<line x1="264.2" y1="156.6" x2="321.8" y2="156.6" stroke="#000" stroke-width="1.15"/>
<line x1="263.5" y1="156.6" x2="264.7" y2="156.6" stroke="#000" stroke-width="0.6"/>
<text x="263.2" y="157.8" font-size="3.3" font-weight="bold" text-anchor="end" stroke-width="0.35">0.0</text>
<line x1="263.5" y1="144.95" x2="264.7" y2="144.95" stroke="#000" stroke-width="0.6"/>
<text x="263.2" y="146.15" font-size="3.3" font-weight="bold" text-anchor="end" stroke-width="0.35">0.1</text>
<line x1="263.5" y1="133.3" x2="264.7" y2="133.3" stroke="#000" stroke-width="0.6"/>
<text x="263.2" y="134.5" font-size="3.3" font-weight="bold" text-anchor="end" stroke-width="0.35">0.2</text>
<line x1="263.5" y1="121.65" x2="264.7" y2="121.65" stroke="#000" stroke-width="0.6"/>
<text x="263.2" y="122.85" font-size="3.3" font-weight="bold" text-anchor="end" stroke-width="0.35">0.3</text>
<line x1="263.5" y1="110" x2="264.7" y2="110" stroke="#000" stroke-width="0.6"/>
<text x="263.2" y="111.2" font-size="3.3" font-weight="bold" text-anchor="end" stroke-width="0.35">0.4</text>
<text x="246.6" y="154.04" font-size="5.06" font-weight="bold" transform="rotate(-90 246.6 154.04)" stroke-width="0.45">IL-17A+ cells among</text>
<text x="251.4" y="148.41" font-size="5.2" font-weight="bold" transform="rotate(-90 251.4 148.41)" stroke-width="0.46">CD3+T cells (%)</text>
<rect x="269.2" y="127.4" width="8.6" height="29.2" fill="#fff" stroke="#000" stroke-width="1"/>
<line x1="273.5" y1="125.2" x2="273.5" y2="127.4" stroke="#000" stroke-width="0.9"/>
<line x1="271" y1="125.2" x2="276" y2="125.2" stroke="#000" stroke-width="0.9"/>
<rect x="282.4" y="146.8" width="8.6" height="9.8" fill="#d0d0d0" stroke="#000" stroke-width="1"/>
<line x1="286.7" y1="144.5" x2="286.7" y2="146.8" stroke="#000" stroke-width="0.9"/>
<line x1="284.2" y1="144.5" x2="289.2" y2="144.5" stroke="#000" stroke-width="0.9"/>
<rect x="295.5" y="115.9" width="9" height="40.7" fill="#000" stroke="#000" stroke-width="1"/>
<line x1="300" y1="113.6" x2="300" y2="115.9" stroke="#000" stroke-width="0.9"/>
<line x1="297.5" y1="113.6" x2="302.5" y2="113.6" stroke="#000" stroke-width="0.9"/>
<rect x="308.8" y="153.8" width="8.6" height="2.8" fill="#999" stroke="#000" stroke-width="1"/>
<line x1="313.1" y1="152" x2="313.1" y2="153.8" stroke="#000" stroke-width="0.9"/>
<line x1="310.6" y1="152" x2="315.6" y2="152" stroke="#000" stroke-width="0.9"/>
<line x1="273.4" y1="156.6" x2="273.4" y2="159.3" stroke="#000" stroke-width="0.7"/>
<line x1="286.7" y1="156.6" x2="286.7" y2="159.3" stroke="#000" stroke-width="0.7"/>
<line x1="300" y1="156.6" x2="300" y2="159.3" stroke="#000" stroke-width="0.7"/>
<line x1="313.1" y1="156.6" x2="313.1" y2="159.3" stroke="#000" stroke-width="0.7"/>
<line x1="274.3" y1="111.2" x2="299" y2="111.2" stroke="#000" stroke-width="0.9"/>
<text x="297.4" y="110" font-size="3.8" font-weight="bold" text-anchor="middle" stroke-width="0.38">*</text>
<line x1="274.3" y1="122" x2="288.4" y2="122" stroke="#000" stroke-width="0.9"/>
<text x="278.3" y="121.2" font-size="3.8" font-weight="bold" text-anchor="middle" stroke-width="0.38">**</text>
<text x="275" y="163.2" font-size="4.5" font-weight="bold" stroke-width="0.5" text-anchor="end" transform="rotate(-45 275 163.2)">CD4⁺T</text>
<text x="288.4" y="163.2" font-size="4.5" font-weight="bold" stroke-width="0.5" text-anchor="end" transform="rotate(-45 288.4 163.2)">CD8⁺T</text>
<text x="299.8" y="164" font-size="4.5" font-weight="bold" stroke-width="0.5" text-anchor="end" transform="rotate(-45 299.8 164)">γδT</text>
<text x="313.6" y="164" font-size="4.5" font-weight="bold" stroke-width="0.5" text-anchor="end" transform="rotate(-45 313.6 164)">NKT</text>
<text x="352.57" y="101" font-size="6.46" font-weight="bold" stroke-width="0.53">pancreatic  IL-17+ cells</text>
<line x1="348.7" y1="106.3" x2="348.7" y2="157.1" stroke="#000" stroke-width="1.15"/>
<line x1="348.2" y1="157.1" x2="411.6" y2="157.1" stroke="#000" stroke-width="1.15"/>
<line x1="347.5" y1="157.1" x2="348.7" y2="157.1" stroke="#000" stroke-width="0.6"/>
<text x="347.2" y="158.3" font-size="3.3" font-weight="bold" text-anchor="end" stroke-width="0.35">0.0</text>
<line x1="347.5" y1="147.02" x2="348.7" y2="147.02" stroke="#000" stroke-width="0.6"/>
<text x="347.2" y="148.22" font-size="3.3" font-weight="bold" text-anchor="end" stroke-width="0.35">0.1</text>
<line x1="347.5" y1="136.94" x2="348.7" y2="136.94" stroke="#000" stroke-width="0.6"/>
<text x="347.2" y="138.14" font-size="3.3" font-weight="bold" text-anchor="end" stroke-width="0.35">0.2</text>
<line x1="347.5" y1="126.86" x2="348.7" y2="126.86" stroke="#000" stroke-width="0.6"/>
<text x="347.2" y="128.06" font-size="3.3" font-weight="bold" text-anchor="end" stroke-width="0.35">0.3</text>
<line x1="347.5" y1="116.78" x2="348.7" y2="116.78" stroke="#000" stroke-width="0.6"/>
<text x="347.2" y="117.98" font-size="3.3" font-weight="bold" text-anchor="end" stroke-width="0.35">0.4</text>
<line x1="347.5" y1="106.7" x2="348.7" y2="106.7" stroke="#000" stroke-width="0.6"/>
<text x="347.2" y="107.9" font-size="3.3" font-weight="bold" text-anchor="end" stroke-width="0.35">0.5</text>
<text x="332.3" y="152.13" font-size="4.95" font-weight="bold" transform="rotate(-90 332.3 152.13)" stroke-width="0.44">IL-17A+ cells among</text>
<text x="337.2" y="144.69" font-size="4.54" font-weight="bold" transform="rotate(-90 337.2 144.69)" stroke-width="0.42">CD3+T cells (%)</text>
<polyline points="356.8,150.55 379.3,137.95 400.9,122.32" stroke="#000" stroke-width="1.4" fill="none"/>
<polyline points="356.8,149.54 379.3,121.82 400.9,145.51" stroke="#000" stroke-width="1.4" fill="none"/>
<line x1="379.3" y1="132.8" x2="379.3" y2="142.4" stroke="#000" stroke-width="0.9"/>
<line x1="377.9" y1="132.8" x2="380.7" y2="132.8" stroke="#000" stroke-width="0.9"/>
<line x1="377.9" y1="142.4" x2="380.7" y2="142.4" stroke="#000" stroke-width="0.9"/>
<line x1="400.9" y1="115" x2="400.9" y2="129" stroke="#000" stroke-width="0.9"/>
<line x1="399.5" y1="115" x2="402.3" y2="115" stroke="#000" stroke-width="0.9"/>
<line x1="399.5" y1="129" x2="402.3" y2="129" stroke="#000" stroke-width="0.9"/>
<line x1="379.3" y1="116.5" x2="379.3" y2="126.5" stroke="#000" stroke-width="0.9"/>
<line x1="377.9" y1="116.5" x2="380.7" y2="116.5" stroke="#000" stroke-width="0.9"/>
<line x1="377.9" y1="126.5" x2="380.7" y2="126.5" stroke="#000" stroke-width="0.9"/>
<line x1="356.8" y1="147" x2="356.8" y2="153.5" stroke="#000" stroke-width="0.9"/>
<line x1="355.4" y1="147" x2="358.2" y2="147" stroke="#000" stroke-width="0.9"/>
<line x1="355.4" y1="153.5" x2="358.2" y2="153.5" stroke="#000" stroke-width="0.9"/>
<rect x="355" y="147.74" width="3.6" height="3.6" fill="#000" stroke="none" stroke-width="0.8"/>
<rect x="377.5" y="120.02" width="3.6" height="3.6" fill="#000" stroke="none" stroke-width="0.8"/>
<rect x="399.1" y="143.71" width="3.6" height="3.6" fill="#000" stroke="none" stroke-width="0.8"/>
<circle cx="356.8" cy="150.55" r="1.5" fill="#bbb" stroke="#000" stroke-width="1"/>
<circle cx="379.3" cy="137.95" r="1.5" fill="#bbb" stroke="#000" stroke-width="1"/>
<circle cx="400.9" cy="122.32" r="1.5" fill="#bbb" stroke="#000" stroke-width="1"/>
<text x="378.59" y="116.2" font-size="4.6" font-weight="bold" textLength="1.42" lengthAdjust="spacingAndGlyphs" stroke-width="0.42">*</text>
<text x="400.29" y="142.4" font-size="4.6" font-weight="bold" textLength="1.42" lengthAdjust="spacingAndGlyphs" stroke-width="0.42">*</text>
<circle cx="406.8" cy="107.6" r="1.2" fill="#fff" stroke="#000" stroke-width="0.7"/>
<text x="408.85" y="109.6" font-size="4.6" font-weight="bold" textLength="14.55" lengthAdjust="spacingAndGlyphs" stroke-width="0.42">Th17</text>
<rect x="405.4" y="111.8" width="2.8" height="2.8" fill="#000" stroke="none" stroke-width="0.8"/>
<text x="408.88" y="115.4" font-size="4.6" font-weight="bold" textLength="16.02" lengthAdjust="spacingAndGlyphs" stroke-width="0.42">γδT17</text>
<text x="351.09" y="164.6" font-size="5" font-weight="bold" textLength="12.61" lengthAdjust="spacingAndGlyphs" stroke-width="0.45">day 0</text>
<text x="372.69" y="164.6" font-size="5" font-weight="bold" textLength="13.19" lengthAdjust="spacingAndGlyphs" stroke-width="0.45">day 3</text>
<text x="394.89" y="164.6" font-size="5" font-weight="bold" textLength="13.32" lengthAdjust="spacingAndGlyphs" stroke-width="0.45">day 7</text>
<text x="367.95" y="170.5" font-size="3.8" font-weight="bold" textLength="26.09" lengthAdjust="spacingAndGlyphs" stroke-width="0.38">postinfection</text>
<text x="449.78" y="101" font-size="6.44" font-weight="bold" stroke-width="0.52">pancreatic  IL-17+ cells</text>
<line x1="448.1" y1="106.5" x2="448.1" y2="155.9" stroke="#000" stroke-width="1.15"/>
<line x1="447.6" y1="155.9" x2="511" y2="155.9" stroke="#000" stroke-width="1.15"/>
<line x1="446.9" y1="155.9" x2="448.1" y2="155.9" stroke="#000" stroke-width="0.6"/>
<text x="446.6" y="157.1" font-size="3.3" font-weight="bold" text-anchor="end" stroke-width="0.35">0</text>
<line x1="446.9" y1="139.55" x2="448.1" y2="139.55" stroke="#000" stroke-width="0.6"/>
<text x="446.6" y="140.75" font-size="3.3" font-weight="bold" text-anchor="end" stroke-width="0.35">5</text>
<line x1="446.9" y1="123.2" x2="448.1" y2="123.2" stroke="#000" stroke-width="0.6"/>
<text x="446.6" y="124.4" font-size="3.3" font-weight="bold" text-anchor="end" stroke-width="0.35">10</text>
<line x1="446.9" y1="106.85" x2="448.1" y2="106.85" stroke="#000" stroke-width="0.6"/>
<text x="446.6" y="108.05" font-size="3.3" font-weight="bold" text-anchor="end" stroke-width="0.35">15</text>
<text x="432.8" y="151.01" font-size="4.61" font-weight="bold" transform="rotate(-90 432.8 151.01)" stroke-width="0.42">IL-17A+ cells among</text>
<text x="437.5" y="148.86" font-size="4.02" font-weight="bold" transform="rotate(-90 437.5 148.86)" stroke-width="0.39">CD4+ / γδ T cells (%)</text>
<polyline points="458.5,147.72 479.3,119.93 500.2,133.66" stroke="#000" stroke-width="1.4" fill="none"/>
<polyline points="458.5,154.92 479.3,154.27 500.2,153.28" stroke="#000" stroke-width="1.4" fill="none"/>
<line x1="479.3" y1="117.5" x2="479.3" y2="122.5" stroke="#000" stroke-width="0.9"/>
<line x1="477.9" y1="117.5" x2="480.7" y2="117.5" stroke="#000" stroke-width="0.9"/>
<line x1="477.9" y1="122.5" x2="480.7" y2="122.5" stroke="#000" stroke-width="0.9"/>
<line x1="500.2" y1="128.3" x2="500.2" y2="138.7" stroke="#000" stroke-width="0.9"/>
<line x1="498.8" y1="128.3" x2="501.6" y2="128.3" stroke="#000" stroke-width="0.9"/>
<line x1="498.8" y1="138.7" x2="501.6" y2="138.7" stroke="#000" stroke-width="0.9"/>
<rect x="456.7" y="145.92" width="3.6" height="3.6" fill="#000" stroke="none" stroke-width="0.8"/>
<rect x="477.5" y="118.13" width="3.6" height="3.6" fill="#000" stroke="none" stroke-width="0.8"/>
<rect x="498.4" y="131.86" width="3.6" height="3.6" fill="#000" stroke="none" stroke-width="0.8"/>
<circle cx="458.5" cy="154.92" r="1.5" fill="#bbb" stroke="#000" stroke-width="1"/>
<circle cx="479.3" cy="154.27" r="1.5" fill="#bbb" stroke="#000" stroke-width="1"/>
<circle cx="500.2" cy="153.28" r="1.5" fill="#bbb" stroke="#000" stroke-width="1"/>
<text x="478.59" y="116" font-size="4.6" font-weight="bold" textLength="7.42" lengthAdjust="spacingAndGlyphs" stroke-width="0.42">***</text>
<text x="500.29" y="127.4" font-size="4.6" font-weight="bold" textLength="3.62" lengthAdjust="spacingAndGlyphs" stroke-width="0.42">**</text>
<circle cx="502.3" cy="110" r="1.2" fill="#fff" stroke="#000" stroke-width="0.7"/>
<text x="504.95" y="112" font-size="4.6" font-weight="bold" textLength="13.15" lengthAdjust="spacingAndGlyphs" stroke-width="0.42">Th17</text>
<rect x="500.9" y="113.4" width="2.8" height="2.8" fill="#000" stroke="none" stroke-width="0.8"/>
<text x="504.98" y="116.8" font-size="4.6" font-weight="bold" textLength="15.42" lengthAdjust="spacingAndGlyphs" stroke-width="0.42">γδT17</text>
<text x="452.49" y="163.3" font-size="5" font-weight="bold" textLength="12.61" lengthAdjust="spacingAndGlyphs" stroke-width="0.45">day 0</text>
<text x="473.39" y="163.3" font-size="5" font-weight="bold" textLength="12.49" lengthAdjust="spacingAndGlyphs" stroke-width="0.45">day 3</text>
<text x="494.19" y="163.3" font-size="5" font-weight="bold" textLength="12.62" lengthAdjust="spacingAndGlyphs" stroke-width="0.45">day 7</text>
<text x="465.25" y="169" font-size="3.8" font-weight="bold" textLength="26.79" lengthAdjust="spacingAndGlyphs" stroke-width="0.38">postinfection</text>
<text x="241.41" y="186.6" font-size="10.89" stroke-width="0.33">E</text>
<text x="255.54" y="185.5" font-size="8.52" font-weight="bold" stroke-width="0.64">pancreas day3</text>
<rect x="260.6" y="194.3" width="41.7" height="41.9" fill="none" stroke="#8c8c8c" stroke-width="0.7"/>
<line x1="285.7" y1="194.3" x2="285.7" y2="236.2" stroke="#b0b0b0" stroke-width="0.5"/>
<line x1="260.6" y1="213.1" x2="302.3" y2="213.1" stroke="#b0b0b0" stroke-width="0.5"/>
<text x="259.6" y="199.81" font-size="2.9" font-weight="bold" text-anchor="end" fill="#333" style="stroke:none">10<tspan dy="-1" font-size="2">4</tspan></text>
<text x="259.6" y="209.24" font-size="2.9" font-weight="bold" text-anchor="end" fill="#333" style="stroke:none">10<tspan dy="-1" font-size="2">3</tspan></text>
<text x="259.6" y="218.66" font-size="2.9" font-weight="bold" text-anchor="end" fill="#333" style="stroke:none">10<tspan dy="-1" font-size="2">2</tspan></text>
<text x="259.6" y="228.09" font-size="2.9" font-weight="bold" text-anchor="end" fill="#333" style="stroke:none">10<tspan dy="-1" font-size="2">1</tspan></text>
<text x="259.6" y="232.91" font-size="2.9" font-weight="bold" text-anchor="end" fill="#333" style="stroke:none">1</text>
<text x="264.56" y="239.9" font-size="2.9" font-weight="bold" text-anchor="middle" fill="#333" style="stroke:none">0</text>
<text x="269.77" y="239.9" font-size="2.9" font-weight="bold" text-anchor="middle" fill="#333" style="stroke:none">10<tspan dy="-1" font-size="2">2</tspan></text>
<text x="280.2" y="239.9" font-size="2.9" font-weight="bold" text-anchor="middle" fill="#333" style="stroke:none">10<tspan dy="-1" font-size="2">3</tspan></text>
<text x="289.79" y="239.9" font-size="2.9" font-weight="bold" text-anchor="middle" fill="#333" style="stroke:none">10<tspan dy="-1" font-size="2">4</tspan></text>
<text x="298.13" y="239.9" font-size="2.9" font-weight="bold" text-anchor="middle" fill="#333" style="stroke:none">10<tspan dy="-1" font-size="2">5</tspan></text>
<rect x="305" y="194.3" width="41.3" height="41.9" fill="none" stroke="#8c8c8c" stroke-width="0.7"/>
<line x1="321.2" y1="194.3" x2="321.2" y2="236.2" stroke="#b0b0b0" stroke-width="0.5"/>
<line x1="305" y1="213.1" x2="346.3" y2="213.1" stroke="#b0b0b0" stroke-width="0.5"/>
<text x="304" y="199.81" font-size="2.9" font-weight="bold" text-anchor="end" fill="#333" style="stroke:none">10<tspan dy="-1" font-size="2">4</tspan></text>
<text x="304" y="209.24" font-size="2.9" font-weight="bold" text-anchor="end" fill="#333" style="stroke:none">10<tspan dy="-1" font-size="2">3</tspan></text>
<text x="304" y="218.66" font-size="2.9" font-weight="bold" text-anchor="end" fill="#333" style="stroke:none">10<tspan dy="-1" font-size="2">2</tspan></text>
<text x="304" y="228.09" font-size="2.9" font-weight="bold" text-anchor="end" fill="#333" style="stroke:none">10<tspan dy="-1" font-size="2">1</tspan></text>
<text x="304" y="232.91" font-size="2.9" font-weight="bold" text-anchor="end" fill="#333" style="stroke:none">1</text>
<text x="308.92" y="239.9" font-size="2.9" font-weight="bold" text-anchor="middle" fill="#333" style="stroke:none">0</text>
<text x="314.09" y="239.9" font-size="2.9" font-weight="bold" text-anchor="middle" fill="#333" style="stroke:none">10<tspan dy="-1" font-size="2">2</tspan></text>
<text x="324.41" y="239.9" font-size="2.9" font-weight="bold" text-anchor="middle" fill="#333" style="stroke:none">10<tspan dy="-1" font-size="2">3</tspan></text>
<text x="333.91" y="239.9" font-size="2.9" font-weight="bold" text-anchor="middle" fill="#333" style="stroke:none">10<tspan dy="-1" font-size="2">4</tspan></text>
<text x="342.17" y="239.9" font-size="2.9" font-weight="bold" text-anchor="middle" fill="#333" style="stroke:none">10<tspan dy="-1" font-size="2">5</tspan></text>
<rect x="368" y="194.3" width="41.6" height="41.9" fill="none" stroke="#8c8c8c" stroke-width="0.7"/>
<line x1="388.8" y1="194.3" x2="388.8" y2="236.2" stroke="#b0b0b0" stroke-width="0.5"/>
<line x1="368" y1="213.1" x2="409.6" y2="213.1" stroke="#b0b0b0" stroke-width="0.5"/>
<text x="367" y="199.81" font-size="2.9" font-weight="bold" text-anchor="end" fill="#333" style="stroke:none">10<tspan dy="-1" font-size="2">4</tspan></text>
<text x="367" y="209.24" font-size="2.9" font-weight="bold" text-anchor="end" fill="#333" style="stroke:none">10<tspan dy="-1" font-size="2">3</tspan></text>
<text x="367" y="218.66" font-size="2.9" font-weight="bold" text-anchor="end" fill="#333" style="stroke:none">10<tspan dy="-1" font-size="2">2</tspan></text>
<text x="367" y="228.09" font-size="2.9" font-weight="bold" text-anchor="end" fill="#333" style="stroke:none">10<tspan dy="-1" font-size="2">1</tspan></text>
<text x="367" y="232.91" font-size="2.9" font-weight="bold" text-anchor="end" fill="#333" style="stroke:none">1</text>
<text x="371.95" y="239.9" font-size="2.9" font-weight="bold" text-anchor="middle" fill="#333" style="stroke:none">0</text>
<text x="377.15" y="239.9" font-size="2.9" font-weight="bold" text-anchor="middle" fill="#333" style="stroke:none">10<tspan dy="-1" font-size="2">2</tspan></text>
<text x="387.55" y="239.9" font-size="2.9" font-weight="bold" text-anchor="middle" fill="#333" style="stroke:none">10<tspan dy="-1" font-size="2">3</tspan></text>
<text x="397.12" y="239.9" font-size="2.9" font-weight="bold" text-anchor="middle" fill="#333" style="stroke:none">10<tspan dy="-1" font-size="2">4</tspan></text>
<text x="405.44" y="239.9" font-size="2.9" font-weight="bold" text-anchor="middle" fill="#333" style="stroke:none">10<tspan dy="-1" font-size="2">5</tspan></text>
<rect x="412.8" y="194.3" width="40.5" height="41.9" fill="none" stroke="#8c8c8c" stroke-width="0.7"/>
<line x1="427.3" y1="194.3" x2="427.3" y2="236.2" stroke="#b0b0b0" stroke-width="0.5"/>
<line x1="412.8" y1="213.1" x2="453.3" y2="213.1" stroke="#b0b0b0" stroke-width="0.5"/>
<text x="411.8" y="199.81" font-size="2.9" font-weight="bold" text-anchor="end" fill="#333" style="stroke:none">10<tspan dy="-1" font-size="2">4</tspan></text>
<text x="411.8" y="209.24" font-size="2.9" font-weight="bold" text-anchor="end" fill="#333" style="stroke:none">10<tspan dy="-1" font-size="2">3</tspan></text>
<text x="411.8" y="218.66" font-size="2.9" font-weight="bold" text-anchor="end" fill="#333" style="stroke:none">10<tspan dy="-1" font-size="2">2</tspan></text>
<text x="411.8" y="228.09" font-size="2.9" font-weight="bold" text-anchor="end" fill="#333" style="stroke:none">10<tspan dy="-1" font-size="2">1</tspan></text>
<text x="411.8" y="232.91" font-size="2.9" font-weight="bold" text-anchor="end" fill="#333" style="stroke:none">1</text>
<text x="416.65" y="239.9" font-size="2.9" font-weight="bold" text-anchor="middle" fill="#333" style="stroke:none">0</text>
<text x="421.71" y="239.9" font-size="2.9" font-weight="bold" text-anchor="middle" fill="#333" style="stroke:none">10<tspan dy="-1" font-size="2">2</tspan></text>
<text x="431.84" y="239.9" font-size="2.9" font-weight="bold" text-anchor="middle" fill="#333" style="stroke:none">10<tspan dy="-1" font-size="2">3</tspan></text>
<text x="441.15" y="239.9" font-size="2.9" font-weight="bold" text-anchor="middle" fill="#333" style="stroke:none">10<tspan dy="-1" font-size="2">4</tspan></text>
<text x="449.25" y="239.9" font-size="2.9" font-weight="bold" text-anchor="middle" fill="#333" style="stroke:none">10<tspan dy="-1" font-size="2">5</tspan></text>
<text x="260.55" y="192.8" font-size="3.6" font-weight="bold" textLength="20.3" lengthAdjust="spacingAndGlyphs" stroke-width="0.37">CD3 TCRδ</text>
<text x="306.15" y="192.8" font-size="3.6" font-weight="bold" textLength="28.25" lengthAdjust="spacingAndGlyphs" stroke-width="0.37">CD3 TCRδ Vγ1</text>
<text x="367.05" y="192.8" font-size="3.6" font-weight="bold" textLength="21.3" lengthAdjust="spacingAndGlyphs" stroke-width="0.37">CD3 TCRδ</text>
<text x="412.95" y="192.8" font-size="3.6" font-weight="bold" textLength="25.47" lengthAdjust="spacingAndGlyphs" stroke-width="0.37">CD3 TCRδ Vγ4</text>
<text x="262.23" y="200.4" font-size="4.5" font-weight="bold" textLength="6.11" lengthAdjust="spacingAndGlyphs" stroke-width="0.42">4.8</text>
<text x="294.12" y="200.4" font-size="4.5" font-weight="bold" textLength="6.2" lengthAdjust="spacingAndGlyphs" stroke-width="0.42">0.1</text>
<text x="291.44" y="236" font-size="4.5" font-weight="bold" textLength="8.68" lengthAdjust="spacingAndGlyphs" stroke-width="0.42">26.4</text>
<text x="335.52" y="200.5" font-size="4.5" font-weight="bold" textLength="5.9" lengthAdjust="spacingAndGlyphs" stroke-width="0.42">0.5</text>
<text x="369.12" y="200.5" font-size="4.5" font-weight="bold" textLength="8.1" lengthAdjust="spacingAndGlyphs" stroke-width="0.42">0.15</text>
<text x="403.13" y="200.5" font-size="4.5" font-weight="bold" textLength="5.84" lengthAdjust="spacingAndGlyphs" stroke-width="0.42">4.9</text>
<text x="400.2" y="234.8" font-size="4.5" font-weight="bold" textLength="8.68" lengthAdjust="spacingAndGlyphs" stroke-width="0.42">30.2</text>
<text x="441.42" y="200.5" font-size="4.5" font-weight="bold" textLength="7.91" lengthAdjust="spacingAndGlyphs" stroke-width="0.42">13.5</text>
<text x="256.6" y="223.74" font-size="6.58" font-weight="bold" transform="rotate(-90 256.6 223.74)" stroke-width="0.53">IL-17A</text>
<polyline points="253.9,225 253.9,243.8 300.8,243.8" stroke="#333" stroke-width="0.9" fill="none"/>
<text x="302.96" y="246.2" font-size="6" font-weight="bold" textLength="10.21" lengthAdjust="spacingAndGlyphs" stroke-width="0.5">Vγ1</text>
<text x="364" y="226.8" font-size="7.53" font-weight="bold" transform="rotate(-90 364 226.8)" stroke-width="0.58">IL-17A</text>
<polyline points="361.8,228 361.8,242.9 407.6,242.9" stroke="#333" stroke-width="0.9" fill="none"/>
<text x="409.96" y="246.2" font-size="6" font-weight="bold" textLength="9.27" lengthAdjust="spacingAndGlyphs" stroke-width="0.5">Vγ4</text>
<line x1="274.6" y1="253.3" x2="274.6" y2="299.5" stroke="#000" stroke-width="1.15"/>
<line x1="274.1" y1="299.5" x2="334" y2="299.5" stroke="#000" stroke-width="1.15"/>
<line x1="273.3" y1="299.5" x2="274.6" y2="299.5" stroke="#000" stroke-width="0.7"/>
<text x="270.57" y="300.7" font-size="3.4" font-weight="bold" textLength="1.57" lengthAdjust="spacingAndGlyphs" stroke-width="0.36">0</text>
<line x1="273.3" y1="291.88" x2="274.6" y2="291.88" stroke="#000" stroke-width="0.7"/>
<text x="270.58" y="293.08" font-size="3.4" font-weight="bold" textLength="1.55" lengthAdjust="spacingAndGlyphs" stroke-width="0.36">2</text>
<line x1="273.3" y1="284.26" x2="274.6" y2="284.26" stroke="#000" stroke-width="0.7"/>
<text x="270.65" y="285.46" font-size="3.4" font-weight="bold" textLength="1.37" lengthAdjust="spacingAndGlyphs" stroke-width="0.36">4</text>
<line x1="273.3" y1="276.64" x2="274.6" y2="276.64" stroke="#000" stroke-width="0.7"/>
<text x="270.58" y="277.84" font-size="3.4" font-weight="bold" textLength="1.55" lengthAdjust="spacingAndGlyphs" stroke-width="0.36">6</text>
<line x1="273.3" y1="269.02" x2="274.6" y2="269.02" stroke="#000" stroke-width="0.7"/>
<text x="270.59" y="270.22" font-size="3.4" font-weight="bold" textLength="1.51" lengthAdjust="spacingAndGlyphs" stroke-width="0.36">8</text>
<line x1="273.3" y1="261.4" x2="274.6" y2="261.4" stroke="#000" stroke-width="0.7"/>
<text x="268.59" y="262.6" font-size="3.4" font-weight="bold" textLength="3.55" lengthAdjust="spacingAndGlyphs" stroke-width="0.36">10</text>
<line x1="273.3" y1="253.78" x2="274.6" y2="253.78" stroke="#000" stroke-width="0.7"/>
<text x="268.59" y="254.98" font-size="3.4" font-weight="bold" textLength="3.55" lengthAdjust="spacingAndGlyphs" stroke-width="0.36">12</text>
<text x="260.6" y="293.79" font-size="4.38" font-weight="bold" transform="rotate(-90 260.6 293.79)" stroke-width="0.41">IL-17A+ cells among</text>
<text x="266.3" y="286.02" font-size="4.16" font-weight="bold" transform="rotate(-90 266.3 286.02)" stroke-width="0.4">γδT cells (%)</text>
<polyline points="284.5,291.5 304.3,264.07 323.8,284.26" stroke="#000" stroke-width="1.4" fill="none"/>
<polyline points="284.5,299.12 304.3,299.12 323.8,299.12" stroke="#000" stroke-width="1.4" fill="none"/>
<line x1="304.3" y1="257.4" x2="304.3" y2="270.2" stroke="#000" stroke-width="0.9"/>
<line x1="302.9" y1="257.4" x2="305.7" y2="257.4" stroke="#000" stroke-width="0.9"/>
<line x1="302.9" y1="270.2" x2="305.7" y2="270.2" stroke="#000" stroke-width="0.9"/>
<line x1="323.8" y1="281.6" x2="323.8" y2="287.7" stroke="#000" stroke-width="0.9"/>
<line x1="322.4" y1="281.6" x2="325.2" y2="281.6" stroke="#000" stroke-width="0.9"/>
<line x1="322.4" y1="287.7" x2="325.2" y2="287.7" stroke="#000" stroke-width="0.9"/>
<rect x="282.7" y="289.7" width="3.6" height="3.6" fill="#000" stroke="none" stroke-width="0.8"/>
<rect x="302.5" y="262.27" width="3.6" height="3.6" fill="#000" stroke="none" stroke-width="0.8"/>
<rect x="322" y="282.46" width="3.6" height="3.6" fill="#000" stroke="none" stroke-width="0.8"/>
<circle cx="284.5" cy="299.12" r="1.5" fill="#bbb" stroke="#000" stroke-width="1"/>
<circle cx="304.3" cy="299.12" r="1.5" fill="#bbb" stroke="#000" stroke-width="1"/>
<circle cx="323.8" cy="299.12" r="1.5" fill="#bbb" stroke="#000" stroke-width="1"/>
<text x="304.59" y="255.6" font-size="4.6" font-weight="bold" textLength="4.12" lengthAdjust="spacingAndGlyphs" stroke-width="0.42">**</text>
<text x="324.79" y="279.4" font-size="4.6" font-weight="bold" textLength="4.12" lengthAdjust="spacingAndGlyphs" stroke-width="0.42">**</text>
<circle cx="323.2" cy="256" r="1.8" fill="#000" stroke="none" stroke-width="0.8"/>
<text x="327.47" y="258.3" font-size="4.7" font-weight="bold" textLength="10.26" lengthAdjust="spacingAndGlyphs" stroke-width="0.43">Vγ4</text>
<circle cx="323.2" cy="262.4" r="1.5" fill="#bbb" stroke="#000" stroke-width="1"/>
<text x="327.47" y="264.6" font-size="4.7" font-weight="bold" textLength="9.36" lengthAdjust="spacingAndGlyphs" stroke-width="0.43">Vγ1</text>
<text x="278.19" y="306.4" font-size="5" font-weight="bold" textLength="13.21" lengthAdjust="spacingAndGlyphs" stroke-width="0.45">day 0</text>
<text x="298.39" y="306.4" font-size="5" font-weight="bold" textLength="12.49" lengthAdjust="spacingAndGlyphs" stroke-width="0.45">day 3</text>
<text x="317.89" y="306.4" font-size="5" font-weight="bold" textLength="13.22" lengthAdjust="spacingAndGlyphs" stroke-width="0.45">day 7</text>
<text x="290.25" y="312" font-size="3.8" font-weight="bold" textLength="26.09" lengthAdjust="spacingAndGlyphs" stroke-width="0.38">postinfection</text>
<line x1="371.1" y1="251.3" x2="371.1" y2="298.5" stroke="#000" stroke-width="1.15"/>
<line x1="370.6" y1="298.5" x2="431" y2="298.5" stroke="#000" stroke-width="1.15"/>
<line x1="369.8" y1="298.5" x2="371.1" y2="298.5" stroke="#000" stroke-width="0.7"/>
<text x="367.07" y="299.7" font-size="3.4" font-weight="bold" textLength="1.57" lengthAdjust="spacingAndGlyphs" stroke-width="0.36">0</text>
<line x1="369.8" y1="289.12" x2="371.1" y2="289.12" stroke="#000" stroke-width="0.7"/>
<text x="363.28" y="290.32" font-size="3.4" font-weight="bold" textLength="5.36" lengthAdjust="spacingAndGlyphs" stroke-width="0.36">200</text>
<line x1="369.8" y1="279.74" x2="371.1" y2="279.74" stroke="#000" stroke-width="0.7"/>
<text x="363.35" y="280.94" font-size="3.4" font-weight="bold" textLength="5.29" lengthAdjust="spacingAndGlyphs" stroke-width="0.36">400</text>
<line x1="369.8" y1="270.36" x2="371.1" y2="270.36" stroke="#000" stroke-width="0.7"/>
<text x="363.28" y="271.56" font-size="3.4" font-weight="bold" textLength="5.36" lengthAdjust="spacingAndGlyphs" stroke-width="0.36">600</text>
<line x1="369.8" y1="260.98" x2="371.1" y2="260.98" stroke="#000" stroke-width="0.7"/>
<text x="363.29" y="262.18" font-size="3.4" font-weight="bold" textLength="5.35" lengthAdjust="spacingAndGlyphs" stroke-width="0.36">800</text>
<line x1="369.8" y1="251.6" x2="371.1" y2="251.6" stroke="#000" stroke-width="0.7"/>
<text x="361.29" y="252.8" font-size="3.4" font-weight="bold" textLength="7.35" lengthAdjust="spacingAndGlyphs" stroke-width="0.36">1000</text>
<text x="355.7" y="298.01" font-size="4.7" font-weight="bold" transform="rotate(-90 355.7 298.01)" stroke-width="0.43">IL-17A+ cell numbers</text>
<text x="359.4" y="280.24" font-size="4.2" font-weight="bold" transform="rotate(-90 359.4 280.24)" stroke-width="0.4">/pancreas</text>
<polyline points="380.9,296.86 400.7,266.61 420.9,294.51" stroke="#000" stroke-width="1.4" fill="none"/>
<polyline points="380.9,297.56 400.7,295.22 420.9,297.09" stroke="#000" stroke-width="1.4" fill="none"/>
<line x1="400.7" y1="260.4" x2="400.7" y2="273.6" stroke="#000" stroke-width="0.9"/>
<line x1="399.3" y1="260.4" x2="402.1" y2="260.4" stroke="#000" stroke-width="0.9"/>
<line x1="399.3" y1="273.6" x2="402.1" y2="273.6" stroke="#000" stroke-width="0.9"/>
<rect x="379.1" y="295.06" width="3.6" height="3.6" fill="#000" stroke="none" stroke-width="0.8"/>
<rect x="398.9" y="264.81" width="3.6" height="3.6" fill="#000" stroke="none" stroke-width="0.8"/>
<rect x="419.1" y="292.71" width="3.6" height="3.6" fill="#000" stroke="none" stroke-width="0.8"/>
<circle cx="380.9" cy="297.56" r="1.5" fill="#bbb" stroke="#000" stroke-width="1"/>
<circle cx="400.7" cy="295.22" r="1.5" fill="#bbb" stroke="#000" stroke-width="1"/>
<circle cx="420.9" cy="297.09" r="1.5" fill="#bbb" stroke="#000" stroke-width="1"/>
<text x="401.59" y="258" font-size="4.6" font-weight="bold" textLength="4.12" lengthAdjust="spacingAndGlyphs" stroke-width="0.42">**</text>
<rect x="417" y="252.3" width="3.6" height="3.6" fill="#000" stroke="none" stroke-width="0.8"/>
<text x="422.47" y="256.5" font-size="4.7" font-weight="bold" textLength="8.86" lengthAdjust="spacingAndGlyphs" stroke-width="0.43">Vγ4</text>
<circle cx="418.8" cy="260.8" r="1.5" fill="#bbb" stroke="#000" stroke-width="1"/>
<text x="422.47" y="263" font-size="4.7" font-weight="bold" textLength="8.96" lengthAdjust="spacingAndGlyphs" stroke-width="0.43">Vγ1</text>
<text x="375.19" y="305.9" font-size="5" font-weight="bold" textLength="11.91" lengthAdjust="spacingAndGlyphs" stroke-width="0.45">day 0</text>
<text x="394.69" y="305.9" font-size="5" font-weight="bold" textLength="13.29" lengthAdjust="spacingAndGlyphs" stroke-width="0.45">day 3</text>
<text x="414.19" y="305.9" font-size="5" font-weight="bold" textLength="13.32" lengthAdjust="spacingAndGlyphs" stroke-width="0.45">day 7</text>
<text x="389.95" y="310.8" font-size="3.8" font-weight="bold" textLength="26.79" lengthAdjust="spacingAndGlyphs" stroke-width="0.38">postinfection</text>
<polyline points="15.7,42 15.7,26.6 39.5,26.6 39.5,42" stroke="#aaa" stroke-width="0.5" fill="none"/>
<polyline points="42.6,42.2 55.2,42.2 55.2,63.2" stroke="#aaa" stroke-width="0.5" fill="none"/>
<polyline points="65,44 65,25.9 88.5,25.9 88.5,42" stroke="#aaa" stroke-width="0.5" fill="none"/>
<polyline points="92,42.2 104.5,42.2 104.5,63.2" stroke="#aaa" stroke-width="0.5" fill="none"/>
<polyline points="113.5,43 113.5,25.5 136.8,25.5 136.8,41.5" stroke="#aaa" stroke-width="0.5" fill="none"/>
<polyline points="141.6,42.4 154.2,42.4 154.2,63.2" stroke="#aaa" stroke-width="0.5" fill="none"/>
<circle cx="327.8" cy="211.2" r="0.5" fill="#777" stroke="none" stroke-width="0.8"/>
</g>
</svg></body></html>
